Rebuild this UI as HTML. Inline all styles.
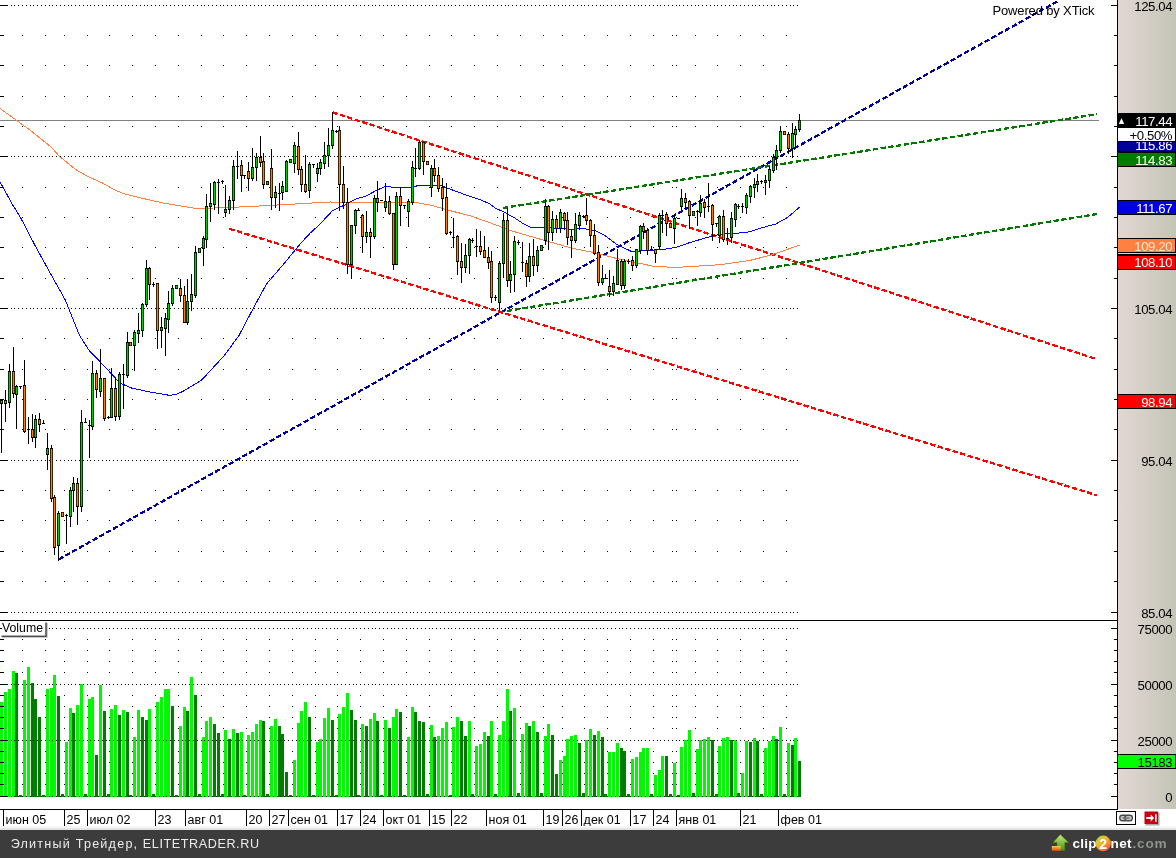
<!DOCTYPE html><html><head><meta charset="utf-8"><title>chart</title><style>html,body{margin:0;padding:0;background:#fff}svg{display:block;will-change:transform}text{font-family:"Liberation Sans",sans-serif}</style></head><body>
<svg width="1176" height="858" viewBox="0 0 1176 858">
<defs><linearGradient id="ax" x1="0" x2="1" y1="0" y2="0"><stop offset="0" stop-color="#e2d7d3"/><stop offset="0.5" stop-color="#d3cec6"/><stop offset="1" stop-color="#c4c4b6"/></linearGradient><linearGradient id="ball" x1="0.15" y1="0.05" x2="0.85" y2="0.95"><stop offset="0" stop-color="#9cd440"/><stop offset="0.3" stop-color="#e8c030"/><stop offset="0.6" stop-color="#f89820"/><stop offset="1" stop-color="#f04858"/></linearGradient><linearGradient id="arr" x1="0" x2="0" y1="0" y2="1"><stop offset="0" stop-color="#c8e878"/><stop offset="1" stop-color="#4c9010"/></linearGradient><linearGradient id="arb" x1="0" x2="0" y1="0" y2="1"><stop offset="0" stop-color="#f8d030"/><stop offset="1" stop-color="#e04818"/></linearGradient></defs>
<rect width="1176" height="858" fill="#fff"/>
<g shape-rendering="crispEdges">
<path d="M0 702h3V797h-3zM4 692h3V797h-3zM8 689h3V797h-3zM12 671h3V797h-3zM23 680h3V797h-3zM27 667h3V797h-3zM46 689h3V797h-3zM50 688h3V797h-3zM53 675h3V797h-3zM65 742h3V797h-3zM69 708h3V797h-3zM76 705h3V797h-3zM80 684h3V797h-3zM88 699h3V797h-3zM91 697h3V797h-3zM99 685h3V797h-3zM110 709h3V797h-3zM114 705h3V797h-3zM122 710h3V797h-3zM133 737h3V797h-3zM137 710h3V797h-3zM148 709h3V797h-3zM156 702h3V797h-3zM160 697h3V797h-3zM164 689h3V797h-3zM167 689h3V797h-3zM179 726h3V797h-3zM183 707h3V797h-3zM190 677h3V797h-3zM202 737h3V797h-3zM205 721h3V797h-3zM209 717h3V797h-3zM224 730h3V797h-3zM232 729h3V797h-3zM240 732h3V797h-3zM247 735h3V797h-3zM251 732h3V797h-3zM255 724h3V797h-3zM259 720h3V797h-3zM270 726h3V797h-3zM274 719h3V797h-3zM293 760h3V797h-3zM297 723h3V797h-3zM300 711h3V797h-3zM304 702h3V797h-3zM316 742h3V797h-3zM319 739h3V797h-3zM323 718h3V797h-3zM327 708h3V797h-3zM338 714h3V797h-3zM342 707h3V797h-3zM346 693h3V797h-3zM361 724h3V797h-3zM369 719h3V797h-3zM373 713h3V797h-3zM384 720h3V797h-3zM392 717h3V797h-3zM395 709h3V797h-3zM407 737h3V797h-3zM411 707h3V797h-3zM430 725h3V797h-3zM437 736h3V797h-3zM441 728h3V797h-3zM445 722h3V797h-3zM452 727h3V797h-3zM456 717h3V797h-3zM468 721h3V797h-3zM475 746h3V797h-3zM479 744h3V797h-3zM483 732h3V797h-3zM490 721h3V797h-3zM498 735h3V797h-3zM502 721h3V797h-3zM506 689h3V797h-3zM513 708h3V797h-3zM521 734h3V797h-3zM525 723h3V797h-3zM532 721h3V797h-3zM544 736h3V797h-3zM547 724h3V797h-3zM559 760h3V797h-3zM563 756h3V797h-3zM566 739h3V797h-3zM570 736h3V797h-3zM574 735h3V797h-3zM585 740h3V797h-3zM589 729h3V797h-3zM597 731h3V797h-3zM608 752h3V797h-3zM612 752h3V797h-3zM616 743h3V797h-3zM631 759h3V797h-3zM635 757h3V797h-3zM639 752h3V797h-3zM642 748h3V797h-3zM646 748h3V797h-3zM654 775h3V797h-3zM658 770h3V797h-3zM661 756h3V797h-3zM673 763h3V797h-3zM680 747h3V797h-3zM684 740h3V797h-3zM688 730h3V797h-3zM696 749h3V797h-3zM699 740h3V797h-3zM703 739h3V797h-3zM707 737h3V797h-3zM718 746h3V797h-3zM722 738h3V797h-3zM726 737h3V797h-3zM734 740h3V797h-3zM741 773h3V797h-3zM745 741h3V797h-3zM753 738h3V797h-3zM764 748h3V797h-3zM768 741h3V797h-3zM772 736h3V797h-3zM779 727h3V797h-3zM787 743h3V797h-3zM794 738h3V797h-3z" fill="#00f800"/>
<path d="M15 673h3V797h-3zM19 795h3V797h-3zM31 683h3V797h-3zM34 699h3V797h-3zM38 717h3V797h-3zM42 795h3V797h-3zM57 696h3V797h-3zM61 794h3V797h-3zM72 713h3V797h-3zM84 794h3V797h-3zM95 755h3V797h-3zM103 711h3V797h-3zM107 794h3V797h-3zM118 715h3V797h-3zM126 712h3V797h-3zM129 795h3V797h-3zM141 717h3V797h-3zM145 720h3V797h-3zM152 794h3V797h-3zM171 706h3V797h-3zM175 795h3V797h-3zM186 711h3V797h-3zM194 695h3V797h-3zM198 794h3V797h-3zM213 724h3V797h-3zM217 733h3V797h-3zM221 794h3V797h-3zM228 739h3V797h-3zM236 733h3V797h-3zM243 795h3V797h-3zM262 721h3V797h-3zM266 794h3V797h-3zM278 726h3V797h-3zM281 734h3V797h-3zM285 772h3V797h-3zM289 795h3V797h-3zM308 717h3V797h-3zM312 795h3V797h-3zM331 720h3V797h-3zM335 795h3V797h-3zM350 710h3V797h-3zM354 720h3V797h-3zM357 795h3V797h-3zM365 726h3V797h-3zM376 721h3V797h-3zM380 795h3V797h-3zM388 728h3V797h-3zM399 712h3V797h-3zM403 795h3V797h-3zM414 712h3V797h-3zM418 721h3V797h-3zM422 722h3V797h-3zM426 794h3V797h-3zM433 737h3V797h-3zM449 795h3V797h-3zM460 721h3V797h-3zM464 736h3V797h-3zM471 794h3V797h-3zM487 736h3V797h-3zM494 794h3V797h-3zM509 711h3V797h-3zM517 793h3V797h-3zM528 726h3V797h-3zM536 732h3V797h-3zM540 793h3V797h-3zM551 735h3V797h-3zM555 774h3V797h-3zM578 743h3V797h-3zM582 793h3V797h-3zM593 735h3V797h-3zM601 737h3V797h-3zM604 794h3V797h-3zM620 748h3V797h-3zM623 751h3V797h-3zM627 794h3V797h-3zM650 794h3V797h-3zM665 756h3V797h-3zM669 794h3V797h-3zM677 795h3V797h-3zM692 793h3V797h-3zM711 740h3V797h-3zM715 794h3V797h-3zM730 740h3V797h-3zM737 793h3V797h-3zM749 742h3V797h-3zM756 741h3V797h-3zM760 794h3V797h-3zM775 739h3V797h-3zM783 794h3V797h-3zM791 745h3V797h-3zM798 761h3V797h-3z" fill="#007c00"/>
<path d="M11 5h1v1h-1zM14 5h1v1h-1zM18 5h1v1h-1zM22 5h1v1h-1zM26 5h1v1h-1zM30 5h1v1h-1zM33 5h1v1h-1zM37 5h1v1h-1zM41 5h1v1h-1zM45 5h1v1h-1zM49 5h1v1h-1zM52 5h1v1h-1zM56 5h1v1h-1zM60 5h1v1h-1zM64 5h1v1h-1zM68 5h1v1h-1zM71 5h1v1h-1zM75 5h1v1h-1zM79 5h1v1h-1zM83 5h1v1h-1zM87 5h1v1h-1zM90 5h1v1h-1zM94 5h1v1h-1zM98 5h1v1h-1zM102 5h1v1h-1zM106 5h1v1h-1zM109 5h1v1h-1zM113 5h1v1h-1zM117 5h1v1h-1zM121 5h1v1h-1zM125 5h1v1h-1zM128 5h1v1h-1zM132 5h1v1h-1zM136 5h1v1h-1zM140 5h1v1h-1zM144 5h1v1h-1zM147 5h1v1h-1zM151 5h1v1h-1zM155 5h1v1h-1zM159 5h1v1h-1zM163 5h1v1h-1zM166 5h1v1h-1zM170 5h1v1h-1zM174 5h1v1h-1zM178 5h1v1h-1zM182 5h1v1h-1zM185 5h1v1h-1zM189 5h1v1h-1zM193 5h1v1h-1zM197 5h1v1h-1zM201 5h1v1h-1zM204 5h1v1h-1zM208 5h1v1h-1zM212 5h1v1h-1zM216 5h1v1h-1zM220 5h1v1h-1zM223 5h1v1h-1zM227 5h1v1h-1zM231 5h1v1h-1zM235 5h1v1h-1zM239 5h1v1h-1zM242 5h1v1h-1zM246 5h1v1h-1zM250 5h1v1h-1zM254 5h1v1h-1zM258 5h1v1h-1zM261 5h1v1h-1zM265 5h1v1h-1zM269 5h1v1h-1zM273 5h1v1h-1zM277 5h1v1h-1zM280 5h1v1h-1zM284 5h1v1h-1zM288 5h1v1h-1zM292 5h1v1h-1zM296 5h1v1h-1zM299 5h1v1h-1zM303 5h1v1h-1zM307 5h1v1h-1zM311 5h1v1h-1zM315 5h1v1h-1zM318 5h1v1h-1zM322 5h1v1h-1zM326 5h1v1h-1zM330 5h1v1h-1zM334 5h1v1h-1zM337 5h1v1h-1zM341 5h1v1h-1zM345 5h1v1h-1zM349 5h1v1h-1zM353 5h1v1h-1zM356 5h1v1h-1zM360 5h1v1h-1zM364 5h1v1h-1zM368 5h1v1h-1zM372 5h1v1h-1zM375 5h1v1h-1zM379 5h1v1h-1zM383 5h1v1h-1zM387 5h1v1h-1zM391 5h1v1h-1zM394 5h1v1h-1zM398 5h1v1h-1zM402 5h1v1h-1zM406 5h1v1h-1zM410 5h1v1h-1zM413 5h1v1h-1zM417 5h1v1h-1zM421 5h1v1h-1zM425 5h1v1h-1zM429 5h1v1h-1zM432 5h1v1h-1zM436 5h1v1h-1zM440 5h1v1h-1zM444 5h1v1h-1zM448 5h1v1h-1zM451 5h1v1h-1zM455 5h1v1h-1zM459 5h1v1h-1zM463 5h1v1h-1zM467 5h1v1h-1zM470 5h1v1h-1zM474 5h1v1h-1zM478 5h1v1h-1zM482 5h1v1h-1zM486 5h1v1h-1zM489 5h1v1h-1zM493 5h1v1h-1zM497 5h1v1h-1zM501 5h1v1h-1zM505 5h1v1h-1zM508 5h1v1h-1zM512 5h1v1h-1zM516 5h1v1h-1zM520 5h1v1h-1zM524 5h1v1h-1zM527 5h1v1h-1zM531 5h1v1h-1zM535 5h1v1h-1zM539 5h1v1h-1zM543 5h1v1h-1zM546 5h1v1h-1zM550 5h1v1h-1zM554 5h1v1h-1zM558 5h1v1h-1zM562 5h1v1h-1zM565 5h1v1h-1zM569 5h1v1h-1zM573 5h1v1h-1zM577 5h1v1h-1zM581 5h1v1h-1zM584 5h1v1h-1zM588 5h1v1h-1zM592 5h1v1h-1zM596 5h1v1h-1zM600 5h1v1h-1zM603 5h1v1h-1zM607 5h1v1h-1zM611 5h1v1h-1zM615 5h1v1h-1zM619 5h1v1h-1zM622 5h1v1h-1zM626 5h1v1h-1zM630 5h1v1h-1zM634 5h1v1h-1zM638 5h1v1h-1zM641 5h1v1h-1zM645 5h1v1h-1zM649 5h1v1h-1zM653 5h1v1h-1zM657 5h1v1h-1zM660 5h1v1h-1zM664 5h1v1h-1zM668 5h1v1h-1zM672 5h1v1h-1zM676 5h1v1h-1zM679 5h1v1h-1zM683 5h1v1h-1zM687 5h1v1h-1zM691 5h1v1h-1zM695 5h1v1h-1zM698 5h1v1h-1zM702 5h1v1h-1zM706 5h1v1h-1zM710 5h1v1h-1zM714 5h1v1h-1zM717 5h1v1h-1zM721 5h1v1h-1zM725 5h1v1h-1zM729 5h1v1h-1zM733 5h1v1h-1zM736 5h1v1h-1zM740 5h1v1h-1zM744 5h1v1h-1zM748 5h1v1h-1zM752 5h1v1h-1zM755 5h1v1h-1zM759 5h1v1h-1zM763 5h1v1h-1zM767 5h1v1h-1zM771 5h1v1h-1zM774 5h1v1h-1zM778 5h1v1h-1zM782 5h1v1h-1zM786 5h1v1h-1zM790 5h1v1h-1zM793 5h1v1h-1zM797 5h1v1h-1zM0 5h8v1h-8zM22 35h1v1h-1zM45 35h1v1h-1zM64 35h1v1h-1zM87 35h1v1h-1zM109 35h1v1h-1zM132 35h1v1h-1zM155 35h1v1h-1zM178 35h1v1h-1zM201 35h1v1h-1zM223 35h1v1h-1zM246 35h1v1h-1zM269 35h1v1h-1zM292 35h1v1h-1zM315 35h1v1h-1zM337 35h1v1h-1zM360 35h1v1h-1zM383 35h1v1h-1zM406 35h1v1h-1zM429 35h1v1h-1zM451 35h1v1h-1zM474 35h1v1h-1zM497 35h1v1h-1zM520 35h1v1h-1zM543 35h1v1h-1zM562 35h1v1h-1zM584 35h1v1h-1zM607 35h1v1h-1zM630 35h1v1h-1zM653 35h1v1h-1zM672 35h1v1h-1zM676 35h1v1h-1zM695 35h1v1h-1zM717 35h1v1h-1zM740 35h1v1h-1zM763 35h1v1h-1zM786 35h1v1h-1zM0 35h4v1h-4zM22 65h1v1h-1zM45 65h1v1h-1zM64 65h1v1h-1zM87 65h1v1h-1zM109 65h1v1h-1zM132 65h1v1h-1zM155 65h1v1h-1zM178 65h1v1h-1zM201 65h1v1h-1zM223 65h1v1h-1zM246 65h1v1h-1zM269 65h1v1h-1zM292 65h1v1h-1zM315 65h1v1h-1zM337 65h1v1h-1zM360 65h1v1h-1zM383 65h1v1h-1zM406 65h1v1h-1zM429 65h1v1h-1zM451 65h1v1h-1zM474 65h1v1h-1zM497 65h1v1h-1zM520 65h1v1h-1zM543 65h1v1h-1zM562 65h1v1h-1zM584 65h1v1h-1zM607 65h1v1h-1zM630 65h1v1h-1zM653 65h1v1h-1zM672 65h1v1h-1zM676 65h1v1h-1zM695 65h1v1h-1zM717 65h1v1h-1zM740 65h1v1h-1zM763 65h1v1h-1zM786 65h1v1h-1zM0 65h4v1h-4zM22 96h1v1h-1zM45 96h1v1h-1zM64 96h1v1h-1zM87 96h1v1h-1zM109 96h1v1h-1zM132 96h1v1h-1zM155 96h1v1h-1zM178 96h1v1h-1zM201 96h1v1h-1zM223 96h1v1h-1zM246 96h1v1h-1zM269 96h1v1h-1zM292 96h1v1h-1zM315 96h1v1h-1zM337 96h1v1h-1zM360 96h1v1h-1zM383 96h1v1h-1zM406 96h1v1h-1zM429 96h1v1h-1zM451 96h1v1h-1zM474 96h1v1h-1zM497 96h1v1h-1zM520 96h1v1h-1zM543 96h1v1h-1zM562 96h1v1h-1zM584 96h1v1h-1zM607 96h1v1h-1zM630 96h1v1h-1zM653 96h1v1h-1zM672 96h1v1h-1zM676 96h1v1h-1zM695 96h1v1h-1zM717 96h1v1h-1zM740 96h1v1h-1zM763 96h1v1h-1zM786 96h1v1h-1zM0 96h4v1h-4zM22 126h1v1h-1zM45 126h1v1h-1zM64 126h1v1h-1zM87 126h1v1h-1zM109 126h1v1h-1zM132 126h1v1h-1zM155 126h1v1h-1zM178 126h1v1h-1zM201 126h1v1h-1zM223 126h1v1h-1zM246 126h1v1h-1zM269 126h1v1h-1zM292 126h1v1h-1zM315 126h1v1h-1zM337 126h1v1h-1zM360 126h1v1h-1zM383 126h1v1h-1zM406 126h1v1h-1zM429 126h1v1h-1zM451 126h1v1h-1zM474 126h1v1h-1zM497 126h1v1h-1zM520 126h1v1h-1zM543 126h1v1h-1zM562 126h1v1h-1zM584 126h1v1h-1zM607 126h1v1h-1zM630 126h1v1h-1zM653 126h1v1h-1zM672 126h1v1h-1zM676 126h1v1h-1zM695 126h1v1h-1zM717 126h1v1h-1zM740 126h1v1h-1zM763 126h1v1h-1zM786 126h1v1h-1zM0 126h4v1h-4zM11 156h1v1h-1zM14 156h1v1h-1zM18 156h1v1h-1zM22 156h1v1h-1zM26 156h1v1h-1zM30 156h1v1h-1zM33 156h1v1h-1zM37 156h1v1h-1zM41 156h1v1h-1zM45 156h1v1h-1zM49 156h1v1h-1zM52 156h1v1h-1zM56 156h1v1h-1zM60 156h1v1h-1zM64 156h1v1h-1zM68 156h1v1h-1zM71 156h1v1h-1zM75 156h1v1h-1zM79 156h1v1h-1zM83 156h1v1h-1zM87 156h1v1h-1zM90 156h1v1h-1zM94 156h1v1h-1zM98 156h1v1h-1zM102 156h1v1h-1zM106 156h1v1h-1zM109 156h1v1h-1zM113 156h1v1h-1zM117 156h1v1h-1zM121 156h1v1h-1zM125 156h1v1h-1zM128 156h1v1h-1zM132 156h1v1h-1zM136 156h1v1h-1zM140 156h1v1h-1zM144 156h1v1h-1zM147 156h1v1h-1zM151 156h1v1h-1zM155 156h1v1h-1zM159 156h1v1h-1zM163 156h1v1h-1zM166 156h1v1h-1zM170 156h1v1h-1zM174 156h1v1h-1zM178 156h1v1h-1zM182 156h1v1h-1zM185 156h1v1h-1zM189 156h1v1h-1zM193 156h1v1h-1zM197 156h1v1h-1zM201 156h1v1h-1zM204 156h1v1h-1zM208 156h1v1h-1zM212 156h1v1h-1zM216 156h1v1h-1zM220 156h1v1h-1zM223 156h1v1h-1zM227 156h1v1h-1zM231 156h1v1h-1zM235 156h1v1h-1zM239 156h1v1h-1zM242 156h1v1h-1zM246 156h1v1h-1zM250 156h1v1h-1zM254 156h1v1h-1zM258 156h1v1h-1zM261 156h1v1h-1zM265 156h1v1h-1zM269 156h1v1h-1zM273 156h1v1h-1zM277 156h1v1h-1zM280 156h1v1h-1zM284 156h1v1h-1zM288 156h1v1h-1zM292 156h1v1h-1zM296 156h1v1h-1zM299 156h1v1h-1zM303 156h1v1h-1zM307 156h1v1h-1zM311 156h1v1h-1zM315 156h1v1h-1zM318 156h1v1h-1zM322 156h1v1h-1zM326 156h1v1h-1zM330 156h1v1h-1zM334 156h1v1h-1zM337 156h1v1h-1zM341 156h1v1h-1zM345 156h1v1h-1zM349 156h1v1h-1zM353 156h1v1h-1zM356 156h1v1h-1zM360 156h1v1h-1zM364 156h1v1h-1zM368 156h1v1h-1zM372 156h1v1h-1zM375 156h1v1h-1zM379 156h1v1h-1zM383 156h1v1h-1zM387 156h1v1h-1zM391 156h1v1h-1zM394 156h1v1h-1zM398 156h1v1h-1zM402 156h1v1h-1zM406 156h1v1h-1zM410 156h1v1h-1zM413 156h1v1h-1zM417 156h1v1h-1zM421 156h1v1h-1zM425 156h1v1h-1zM429 156h1v1h-1zM432 156h1v1h-1zM436 156h1v1h-1zM440 156h1v1h-1zM444 156h1v1h-1zM448 156h1v1h-1zM451 156h1v1h-1zM455 156h1v1h-1zM459 156h1v1h-1zM463 156h1v1h-1zM467 156h1v1h-1zM470 156h1v1h-1zM474 156h1v1h-1zM478 156h1v1h-1zM482 156h1v1h-1zM486 156h1v1h-1zM489 156h1v1h-1zM493 156h1v1h-1zM497 156h1v1h-1zM501 156h1v1h-1zM505 156h1v1h-1zM508 156h1v1h-1zM512 156h1v1h-1zM516 156h1v1h-1zM520 156h1v1h-1zM524 156h1v1h-1zM527 156h1v1h-1zM531 156h1v1h-1zM535 156h1v1h-1zM539 156h1v1h-1zM543 156h1v1h-1zM546 156h1v1h-1zM550 156h1v1h-1zM554 156h1v1h-1zM558 156h1v1h-1zM562 156h1v1h-1zM565 156h1v1h-1zM569 156h1v1h-1zM573 156h1v1h-1zM577 156h1v1h-1zM581 156h1v1h-1zM584 156h1v1h-1zM588 156h1v1h-1zM592 156h1v1h-1zM596 156h1v1h-1zM600 156h1v1h-1zM603 156h1v1h-1zM607 156h1v1h-1zM611 156h1v1h-1zM615 156h1v1h-1zM619 156h1v1h-1zM622 156h1v1h-1zM626 156h1v1h-1zM630 156h1v1h-1zM634 156h1v1h-1zM638 156h1v1h-1zM641 156h1v1h-1zM645 156h1v1h-1zM649 156h1v1h-1zM653 156h1v1h-1zM657 156h1v1h-1zM660 156h1v1h-1zM664 156h1v1h-1zM668 156h1v1h-1zM672 156h1v1h-1zM676 156h1v1h-1zM679 156h1v1h-1zM683 156h1v1h-1zM687 156h1v1h-1zM691 156h1v1h-1zM695 156h1v1h-1zM698 156h1v1h-1zM702 156h1v1h-1zM706 156h1v1h-1zM710 156h1v1h-1zM714 156h1v1h-1zM717 156h1v1h-1zM721 156h1v1h-1zM725 156h1v1h-1zM729 156h1v1h-1zM733 156h1v1h-1zM736 156h1v1h-1zM740 156h1v1h-1zM744 156h1v1h-1zM748 156h1v1h-1zM752 156h1v1h-1zM755 156h1v1h-1zM759 156h1v1h-1zM763 156h1v1h-1zM767 156h1v1h-1zM771 156h1v1h-1zM774 156h1v1h-1zM778 156h1v1h-1zM782 156h1v1h-1zM786 156h1v1h-1zM790 156h1v1h-1zM793 156h1v1h-1zM797 156h1v1h-1zM0 156h8v1h-8zM22 187h1v1h-1zM45 187h1v1h-1zM64 187h1v1h-1zM87 187h1v1h-1zM109 187h1v1h-1zM132 187h1v1h-1zM155 187h1v1h-1zM178 187h1v1h-1zM201 187h1v1h-1zM223 187h1v1h-1zM246 187h1v1h-1zM269 187h1v1h-1zM292 187h1v1h-1zM315 187h1v1h-1zM337 187h1v1h-1zM360 187h1v1h-1zM383 187h1v1h-1zM406 187h1v1h-1zM429 187h1v1h-1zM451 187h1v1h-1zM474 187h1v1h-1zM497 187h1v1h-1zM520 187h1v1h-1zM543 187h1v1h-1zM562 187h1v1h-1zM584 187h1v1h-1zM607 187h1v1h-1zM630 187h1v1h-1zM653 187h1v1h-1zM672 187h1v1h-1zM676 187h1v1h-1zM695 187h1v1h-1zM717 187h1v1h-1zM740 187h1v1h-1zM763 187h1v1h-1zM786 187h1v1h-1zM0 187h4v1h-4zM22 217h1v1h-1zM45 217h1v1h-1zM64 217h1v1h-1zM87 217h1v1h-1zM109 217h1v1h-1zM132 217h1v1h-1zM155 217h1v1h-1zM178 217h1v1h-1zM201 217h1v1h-1zM223 217h1v1h-1zM246 217h1v1h-1zM269 217h1v1h-1zM292 217h1v1h-1zM315 217h1v1h-1zM337 217h1v1h-1zM360 217h1v1h-1zM383 217h1v1h-1zM406 217h1v1h-1zM429 217h1v1h-1zM451 217h1v1h-1zM474 217h1v1h-1zM497 217h1v1h-1zM520 217h1v1h-1zM543 217h1v1h-1zM562 217h1v1h-1zM584 217h1v1h-1zM607 217h1v1h-1zM630 217h1v1h-1zM653 217h1v1h-1zM672 217h1v1h-1zM676 217h1v1h-1zM695 217h1v1h-1zM717 217h1v1h-1zM740 217h1v1h-1zM763 217h1v1h-1zM786 217h1v1h-1zM0 217h4v1h-4zM22 247h1v1h-1zM45 247h1v1h-1zM64 247h1v1h-1zM87 247h1v1h-1zM109 247h1v1h-1zM132 247h1v1h-1zM155 247h1v1h-1zM178 247h1v1h-1zM201 247h1v1h-1zM223 247h1v1h-1zM246 247h1v1h-1zM269 247h1v1h-1zM292 247h1v1h-1zM315 247h1v1h-1zM337 247h1v1h-1zM360 247h1v1h-1zM383 247h1v1h-1zM406 247h1v1h-1zM429 247h1v1h-1zM451 247h1v1h-1zM474 247h1v1h-1zM497 247h1v1h-1zM520 247h1v1h-1zM543 247h1v1h-1zM562 247h1v1h-1zM584 247h1v1h-1zM607 247h1v1h-1zM630 247h1v1h-1zM653 247h1v1h-1zM672 247h1v1h-1zM676 247h1v1h-1zM695 247h1v1h-1zM717 247h1v1h-1zM740 247h1v1h-1zM763 247h1v1h-1zM786 247h1v1h-1zM0 247h4v1h-4zM22 278h1v1h-1zM45 278h1v1h-1zM64 278h1v1h-1zM87 278h1v1h-1zM109 278h1v1h-1zM132 278h1v1h-1zM155 278h1v1h-1zM178 278h1v1h-1zM201 278h1v1h-1zM223 278h1v1h-1zM246 278h1v1h-1zM269 278h1v1h-1zM292 278h1v1h-1zM315 278h1v1h-1zM337 278h1v1h-1zM360 278h1v1h-1zM383 278h1v1h-1zM406 278h1v1h-1zM429 278h1v1h-1zM451 278h1v1h-1zM474 278h1v1h-1zM497 278h1v1h-1zM520 278h1v1h-1zM543 278h1v1h-1zM562 278h1v1h-1zM584 278h1v1h-1zM607 278h1v1h-1zM630 278h1v1h-1zM653 278h1v1h-1zM672 278h1v1h-1zM676 278h1v1h-1zM695 278h1v1h-1zM717 278h1v1h-1zM740 278h1v1h-1zM763 278h1v1h-1zM786 278h1v1h-1zM0 278h4v1h-4zM11 308h1v1h-1zM14 308h1v1h-1zM18 308h1v1h-1zM22 308h1v1h-1zM26 308h1v1h-1zM30 308h1v1h-1zM33 308h1v1h-1zM37 308h1v1h-1zM41 308h1v1h-1zM45 308h1v1h-1zM49 308h1v1h-1zM52 308h1v1h-1zM56 308h1v1h-1zM60 308h1v1h-1zM64 308h1v1h-1zM68 308h1v1h-1zM71 308h1v1h-1zM75 308h1v1h-1zM79 308h1v1h-1zM83 308h1v1h-1zM87 308h1v1h-1zM90 308h1v1h-1zM94 308h1v1h-1zM98 308h1v1h-1zM102 308h1v1h-1zM106 308h1v1h-1zM109 308h1v1h-1zM113 308h1v1h-1zM117 308h1v1h-1zM121 308h1v1h-1zM125 308h1v1h-1zM128 308h1v1h-1zM132 308h1v1h-1zM136 308h1v1h-1zM140 308h1v1h-1zM144 308h1v1h-1zM147 308h1v1h-1zM151 308h1v1h-1zM155 308h1v1h-1zM159 308h1v1h-1zM163 308h1v1h-1zM166 308h1v1h-1zM170 308h1v1h-1zM174 308h1v1h-1zM178 308h1v1h-1zM182 308h1v1h-1zM185 308h1v1h-1zM189 308h1v1h-1zM193 308h1v1h-1zM197 308h1v1h-1zM201 308h1v1h-1zM204 308h1v1h-1zM208 308h1v1h-1zM212 308h1v1h-1zM216 308h1v1h-1zM220 308h1v1h-1zM223 308h1v1h-1zM227 308h1v1h-1zM231 308h1v1h-1zM235 308h1v1h-1zM239 308h1v1h-1zM242 308h1v1h-1zM246 308h1v1h-1zM250 308h1v1h-1zM254 308h1v1h-1zM258 308h1v1h-1zM261 308h1v1h-1zM265 308h1v1h-1zM269 308h1v1h-1zM273 308h1v1h-1zM277 308h1v1h-1zM280 308h1v1h-1zM284 308h1v1h-1zM288 308h1v1h-1zM292 308h1v1h-1zM296 308h1v1h-1zM299 308h1v1h-1zM303 308h1v1h-1zM307 308h1v1h-1zM311 308h1v1h-1zM315 308h1v1h-1zM318 308h1v1h-1zM322 308h1v1h-1zM326 308h1v1h-1zM330 308h1v1h-1zM334 308h1v1h-1zM337 308h1v1h-1zM341 308h1v1h-1zM345 308h1v1h-1zM349 308h1v1h-1zM353 308h1v1h-1zM356 308h1v1h-1zM360 308h1v1h-1zM364 308h1v1h-1zM368 308h1v1h-1zM372 308h1v1h-1zM375 308h1v1h-1zM379 308h1v1h-1zM383 308h1v1h-1zM387 308h1v1h-1zM391 308h1v1h-1zM394 308h1v1h-1zM398 308h1v1h-1zM402 308h1v1h-1zM406 308h1v1h-1zM410 308h1v1h-1zM413 308h1v1h-1zM417 308h1v1h-1zM421 308h1v1h-1zM425 308h1v1h-1zM429 308h1v1h-1zM432 308h1v1h-1zM436 308h1v1h-1zM440 308h1v1h-1zM444 308h1v1h-1zM448 308h1v1h-1zM451 308h1v1h-1zM455 308h1v1h-1zM459 308h1v1h-1zM463 308h1v1h-1zM467 308h1v1h-1zM470 308h1v1h-1zM474 308h1v1h-1zM478 308h1v1h-1zM482 308h1v1h-1zM486 308h1v1h-1zM489 308h1v1h-1zM493 308h1v1h-1zM497 308h1v1h-1zM501 308h1v1h-1zM505 308h1v1h-1zM508 308h1v1h-1zM512 308h1v1h-1zM516 308h1v1h-1zM520 308h1v1h-1zM524 308h1v1h-1zM527 308h1v1h-1zM531 308h1v1h-1zM535 308h1v1h-1zM539 308h1v1h-1zM543 308h1v1h-1zM546 308h1v1h-1zM550 308h1v1h-1zM554 308h1v1h-1zM558 308h1v1h-1zM562 308h1v1h-1zM565 308h1v1h-1zM569 308h1v1h-1zM573 308h1v1h-1zM577 308h1v1h-1zM581 308h1v1h-1zM584 308h1v1h-1zM588 308h1v1h-1zM592 308h1v1h-1zM596 308h1v1h-1zM600 308h1v1h-1zM603 308h1v1h-1zM607 308h1v1h-1zM611 308h1v1h-1zM615 308h1v1h-1zM619 308h1v1h-1zM622 308h1v1h-1zM626 308h1v1h-1zM630 308h1v1h-1zM634 308h1v1h-1zM638 308h1v1h-1zM641 308h1v1h-1zM645 308h1v1h-1zM649 308h1v1h-1zM653 308h1v1h-1zM657 308h1v1h-1zM660 308h1v1h-1zM664 308h1v1h-1zM668 308h1v1h-1zM672 308h1v1h-1zM676 308h1v1h-1zM679 308h1v1h-1zM683 308h1v1h-1zM687 308h1v1h-1zM691 308h1v1h-1zM695 308h1v1h-1zM698 308h1v1h-1zM702 308h1v1h-1zM706 308h1v1h-1zM710 308h1v1h-1zM714 308h1v1h-1zM717 308h1v1h-1zM721 308h1v1h-1zM725 308h1v1h-1zM729 308h1v1h-1zM733 308h1v1h-1zM736 308h1v1h-1zM740 308h1v1h-1zM744 308h1v1h-1zM748 308h1v1h-1zM752 308h1v1h-1zM755 308h1v1h-1zM759 308h1v1h-1zM763 308h1v1h-1zM767 308h1v1h-1zM771 308h1v1h-1zM774 308h1v1h-1zM778 308h1v1h-1zM782 308h1v1h-1zM786 308h1v1h-1zM790 308h1v1h-1zM793 308h1v1h-1zM797 308h1v1h-1zM0 308h8v1h-8zM22 338h1v1h-1zM45 338h1v1h-1zM64 338h1v1h-1zM87 338h1v1h-1zM109 338h1v1h-1zM132 338h1v1h-1zM155 338h1v1h-1zM178 338h1v1h-1zM201 338h1v1h-1zM223 338h1v1h-1zM246 338h1v1h-1zM269 338h1v1h-1zM292 338h1v1h-1zM315 338h1v1h-1zM337 338h1v1h-1zM360 338h1v1h-1zM383 338h1v1h-1zM406 338h1v1h-1zM429 338h1v1h-1zM451 338h1v1h-1zM474 338h1v1h-1zM497 338h1v1h-1zM520 338h1v1h-1zM543 338h1v1h-1zM562 338h1v1h-1zM584 338h1v1h-1zM607 338h1v1h-1zM630 338h1v1h-1zM653 338h1v1h-1zM672 338h1v1h-1zM676 338h1v1h-1zM695 338h1v1h-1zM717 338h1v1h-1zM740 338h1v1h-1zM763 338h1v1h-1zM786 338h1v1h-1zM0 338h4v1h-4zM22 369h1v1h-1zM45 369h1v1h-1zM64 369h1v1h-1zM87 369h1v1h-1zM109 369h1v1h-1zM132 369h1v1h-1zM155 369h1v1h-1zM178 369h1v1h-1zM201 369h1v1h-1zM223 369h1v1h-1zM246 369h1v1h-1zM269 369h1v1h-1zM292 369h1v1h-1zM315 369h1v1h-1zM337 369h1v1h-1zM360 369h1v1h-1zM383 369h1v1h-1zM406 369h1v1h-1zM429 369h1v1h-1zM451 369h1v1h-1zM474 369h1v1h-1zM497 369h1v1h-1zM520 369h1v1h-1zM543 369h1v1h-1zM562 369h1v1h-1zM584 369h1v1h-1zM607 369h1v1h-1zM630 369h1v1h-1zM653 369h1v1h-1zM672 369h1v1h-1zM676 369h1v1h-1zM695 369h1v1h-1zM717 369h1v1h-1zM740 369h1v1h-1zM763 369h1v1h-1zM786 369h1v1h-1zM0 369h4v1h-4zM22 399h1v1h-1zM45 399h1v1h-1zM64 399h1v1h-1zM87 399h1v1h-1zM109 399h1v1h-1zM132 399h1v1h-1zM155 399h1v1h-1zM178 399h1v1h-1zM201 399h1v1h-1zM223 399h1v1h-1zM246 399h1v1h-1zM269 399h1v1h-1zM292 399h1v1h-1zM315 399h1v1h-1zM337 399h1v1h-1zM360 399h1v1h-1zM383 399h1v1h-1zM406 399h1v1h-1zM429 399h1v1h-1zM451 399h1v1h-1zM474 399h1v1h-1zM497 399h1v1h-1zM520 399h1v1h-1zM543 399h1v1h-1zM562 399h1v1h-1zM584 399h1v1h-1zM607 399h1v1h-1zM630 399h1v1h-1zM653 399h1v1h-1zM672 399h1v1h-1zM676 399h1v1h-1zM695 399h1v1h-1zM717 399h1v1h-1zM740 399h1v1h-1zM763 399h1v1h-1zM786 399h1v1h-1zM0 399h4v1h-4zM22 429h1v1h-1zM45 429h1v1h-1zM64 429h1v1h-1zM87 429h1v1h-1zM109 429h1v1h-1zM132 429h1v1h-1zM155 429h1v1h-1zM178 429h1v1h-1zM201 429h1v1h-1zM223 429h1v1h-1zM246 429h1v1h-1zM269 429h1v1h-1zM292 429h1v1h-1zM315 429h1v1h-1zM337 429h1v1h-1zM360 429h1v1h-1zM383 429h1v1h-1zM406 429h1v1h-1zM429 429h1v1h-1zM451 429h1v1h-1zM474 429h1v1h-1zM497 429h1v1h-1zM520 429h1v1h-1zM543 429h1v1h-1zM562 429h1v1h-1zM584 429h1v1h-1zM607 429h1v1h-1zM630 429h1v1h-1zM653 429h1v1h-1zM672 429h1v1h-1zM676 429h1v1h-1zM695 429h1v1h-1zM717 429h1v1h-1zM740 429h1v1h-1zM763 429h1v1h-1zM786 429h1v1h-1zM0 429h4v1h-4zM11 460h1v1h-1zM14 460h1v1h-1zM18 460h1v1h-1zM22 460h1v1h-1zM26 460h1v1h-1zM30 460h1v1h-1zM33 460h1v1h-1zM37 460h1v1h-1zM41 460h1v1h-1zM45 460h1v1h-1zM49 460h1v1h-1zM52 460h1v1h-1zM56 460h1v1h-1zM60 460h1v1h-1zM64 460h1v1h-1zM68 460h1v1h-1zM71 460h1v1h-1zM75 460h1v1h-1zM79 460h1v1h-1zM83 460h1v1h-1zM87 460h1v1h-1zM90 460h1v1h-1zM94 460h1v1h-1zM98 460h1v1h-1zM102 460h1v1h-1zM106 460h1v1h-1zM109 460h1v1h-1zM113 460h1v1h-1zM117 460h1v1h-1zM121 460h1v1h-1zM125 460h1v1h-1zM128 460h1v1h-1zM132 460h1v1h-1zM136 460h1v1h-1zM140 460h1v1h-1zM144 460h1v1h-1zM147 460h1v1h-1zM151 460h1v1h-1zM155 460h1v1h-1zM159 460h1v1h-1zM163 460h1v1h-1zM166 460h1v1h-1zM170 460h1v1h-1zM174 460h1v1h-1zM178 460h1v1h-1zM182 460h1v1h-1zM185 460h1v1h-1zM189 460h1v1h-1zM193 460h1v1h-1zM197 460h1v1h-1zM201 460h1v1h-1zM204 460h1v1h-1zM208 460h1v1h-1zM212 460h1v1h-1zM216 460h1v1h-1zM220 460h1v1h-1zM223 460h1v1h-1zM227 460h1v1h-1zM231 460h1v1h-1zM235 460h1v1h-1zM239 460h1v1h-1zM242 460h1v1h-1zM246 460h1v1h-1zM250 460h1v1h-1zM254 460h1v1h-1zM258 460h1v1h-1zM261 460h1v1h-1zM265 460h1v1h-1zM269 460h1v1h-1zM273 460h1v1h-1zM277 460h1v1h-1zM280 460h1v1h-1zM284 460h1v1h-1zM288 460h1v1h-1zM292 460h1v1h-1zM296 460h1v1h-1zM299 460h1v1h-1zM303 460h1v1h-1zM307 460h1v1h-1zM311 460h1v1h-1zM315 460h1v1h-1zM318 460h1v1h-1zM322 460h1v1h-1zM326 460h1v1h-1zM330 460h1v1h-1zM334 460h1v1h-1zM337 460h1v1h-1zM341 460h1v1h-1zM345 460h1v1h-1zM349 460h1v1h-1zM353 460h1v1h-1zM356 460h1v1h-1zM360 460h1v1h-1zM364 460h1v1h-1zM368 460h1v1h-1zM372 460h1v1h-1zM375 460h1v1h-1zM379 460h1v1h-1zM383 460h1v1h-1zM387 460h1v1h-1zM391 460h1v1h-1zM394 460h1v1h-1zM398 460h1v1h-1zM402 460h1v1h-1zM406 460h1v1h-1zM410 460h1v1h-1zM413 460h1v1h-1zM417 460h1v1h-1zM421 460h1v1h-1zM425 460h1v1h-1zM429 460h1v1h-1zM432 460h1v1h-1zM436 460h1v1h-1zM440 460h1v1h-1zM444 460h1v1h-1zM448 460h1v1h-1zM451 460h1v1h-1zM455 460h1v1h-1zM459 460h1v1h-1zM463 460h1v1h-1zM467 460h1v1h-1zM470 460h1v1h-1zM474 460h1v1h-1zM478 460h1v1h-1zM482 460h1v1h-1zM486 460h1v1h-1zM489 460h1v1h-1zM493 460h1v1h-1zM497 460h1v1h-1zM501 460h1v1h-1zM505 460h1v1h-1zM508 460h1v1h-1zM512 460h1v1h-1zM516 460h1v1h-1zM520 460h1v1h-1zM524 460h1v1h-1zM527 460h1v1h-1zM531 460h1v1h-1zM535 460h1v1h-1zM539 460h1v1h-1zM543 460h1v1h-1zM546 460h1v1h-1zM550 460h1v1h-1zM554 460h1v1h-1zM558 460h1v1h-1zM562 460h1v1h-1zM565 460h1v1h-1zM569 460h1v1h-1zM573 460h1v1h-1zM577 460h1v1h-1zM581 460h1v1h-1zM584 460h1v1h-1zM588 460h1v1h-1zM592 460h1v1h-1zM596 460h1v1h-1zM600 460h1v1h-1zM603 460h1v1h-1zM607 460h1v1h-1zM611 460h1v1h-1zM615 460h1v1h-1zM619 460h1v1h-1zM622 460h1v1h-1zM626 460h1v1h-1zM630 460h1v1h-1zM634 460h1v1h-1zM638 460h1v1h-1zM641 460h1v1h-1zM645 460h1v1h-1zM649 460h1v1h-1zM653 460h1v1h-1zM657 460h1v1h-1zM660 460h1v1h-1zM664 460h1v1h-1zM668 460h1v1h-1zM672 460h1v1h-1zM676 460h1v1h-1zM679 460h1v1h-1zM683 460h1v1h-1zM687 460h1v1h-1zM691 460h1v1h-1zM695 460h1v1h-1zM698 460h1v1h-1zM702 460h1v1h-1zM706 460h1v1h-1zM710 460h1v1h-1zM714 460h1v1h-1zM717 460h1v1h-1zM721 460h1v1h-1zM725 460h1v1h-1zM729 460h1v1h-1zM733 460h1v1h-1zM736 460h1v1h-1zM740 460h1v1h-1zM744 460h1v1h-1zM748 460h1v1h-1zM752 460h1v1h-1zM755 460h1v1h-1zM759 460h1v1h-1zM763 460h1v1h-1zM767 460h1v1h-1zM771 460h1v1h-1zM774 460h1v1h-1zM778 460h1v1h-1zM782 460h1v1h-1zM786 460h1v1h-1zM790 460h1v1h-1zM793 460h1v1h-1zM797 460h1v1h-1zM0 460h8v1h-8zM22 490h1v1h-1zM45 490h1v1h-1zM64 490h1v1h-1zM87 490h1v1h-1zM109 490h1v1h-1zM132 490h1v1h-1zM155 490h1v1h-1zM178 490h1v1h-1zM201 490h1v1h-1zM223 490h1v1h-1zM246 490h1v1h-1zM269 490h1v1h-1zM292 490h1v1h-1zM315 490h1v1h-1zM337 490h1v1h-1zM360 490h1v1h-1zM383 490h1v1h-1zM406 490h1v1h-1zM429 490h1v1h-1zM451 490h1v1h-1zM474 490h1v1h-1zM497 490h1v1h-1zM520 490h1v1h-1zM543 490h1v1h-1zM562 490h1v1h-1zM584 490h1v1h-1zM607 490h1v1h-1zM630 490h1v1h-1zM653 490h1v1h-1zM672 490h1v1h-1zM676 490h1v1h-1zM695 490h1v1h-1zM717 490h1v1h-1zM740 490h1v1h-1zM763 490h1v1h-1zM786 490h1v1h-1zM0 490h4v1h-4zM22 520h1v1h-1zM45 520h1v1h-1zM64 520h1v1h-1zM87 520h1v1h-1zM109 520h1v1h-1zM132 520h1v1h-1zM155 520h1v1h-1zM178 520h1v1h-1zM201 520h1v1h-1zM223 520h1v1h-1zM246 520h1v1h-1zM269 520h1v1h-1zM292 520h1v1h-1zM315 520h1v1h-1zM337 520h1v1h-1zM360 520h1v1h-1zM383 520h1v1h-1zM406 520h1v1h-1zM429 520h1v1h-1zM451 520h1v1h-1zM474 520h1v1h-1zM497 520h1v1h-1zM520 520h1v1h-1zM543 520h1v1h-1zM562 520h1v1h-1zM584 520h1v1h-1zM607 520h1v1h-1zM630 520h1v1h-1zM653 520h1v1h-1zM672 520h1v1h-1zM676 520h1v1h-1zM695 520h1v1h-1zM717 520h1v1h-1zM740 520h1v1h-1zM763 520h1v1h-1zM786 520h1v1h-1zM0 520h4v1h-4zM22 551h1v1h-1zM45 551h1v1h-1zM64 551h1v1h-1zM87 551h1v1h-1zM109 551h1v1h-1zM132 551h1v1h-1zM155 551h1v1h-1zM178 551h1v1h-1zM201 551h1v1h-1zM223 551h1v1h-1zM246 551h1v1h-1zM269 551h1v1h-1zM292 551h1v1h-1zM315 551h1v1h-1zM337 551h1v1h-1zM360 551h1v1h-1zM383 551h1v1h-1zM406 551h1v1h-1zM429 551h1v1h-1zM451 551h1v1h-1zM474 551h1v1h-1zM497 551h1v1h-1zM520 551h1v1h-1zM543 551h1v1h-1zM562 551h1v1h-1zM584 551h1v1h-1zM607 551h1v1h-1zM630 551h1v1h-1zM653 551h1v1h-1zM672 551h1v1h-1zM676 551h1v1h-1zM695 551h1v1h-1zM717 551h1v1h-1zM740 551h1v1h-1zM763 551h1v1h-1zM786 551h1v1h-1zM0 551h4v1h-4zM22 581h1v1h-1zM45 581h1v1h-1zM64 581h1v1h-1zM87 581h1v1h-1zM109 581h1v1h-1zM132 581h1v1h-1zM155 581h1v1h-1zM178 581h1v1h-1zM201 581h1v1h-1zM223 581h1v1h-1zM246 581h1v1h-1zM269 581h1v1h-1zM292 581h1v1h-1zM315 581h1v1h-1zM337 581h1v1h-1zM360 581h1v1h-1zM383 581h1v1h-1zM406 581h1v1h-1zM429 581h1v1h-1zM451 581h1v1h-1zM474 581h1v1h-1zM497 581h1v1h-1zM520 581h1v1h-1zM543 581h1v1h-1zM562 581h1v1h-1zM584 581h1v1h-1zM607 581h1v1h-1zM630 581h1v1h-1zM653 581h1v1h-1zM672 581h1v1h-1zM676 581h1v1h-1zM695 581h1v1h-1zM717 581h1v1h-1zM740 581h1v1h-1zM763 581h1v1h-1zM786 581h1v1h-1zM0 581h4v1h-4zM11 612h1v1h-1zM14 612h1v1h-1zM18 612h1v1h-1zM22 612h1v1h-1zM26 612h1v1h-1zM30 612h1v1h-1zM33 612h1v1h-1zM37 612h1v1h-1zM41 612h1v1h-1zM45 612h1v1h-1zM49 612h1v1h-1zM52 612h1v1h-1zM56 612h1v1h-1zM60 612h1v1h-1zM64 612h1v1h-1zM68 612h1v1h-1zM71 612h1v1h-1zM75 612h1v1h-1zM79 612h1v1h-1zM83 612h1v1h-1zM87 612h1v1h-1zM90 612h1v1h-1zM94 612h1v1h-1zM98 612h1v1h-1zM102 612h1v1h-1zM106 612h1v1h-1zM109 612h1v1h-1zM113 612h1v1h-1zM117 612h1v1h-1zM121 612h1v1h-1zM125 612h1v1h-1zM128 612h1v1h-1zM132 612h1v1h-1zM136 612h1v1h-1zM140 612h1v1h-1zM144 612h1v1h-1zM147 612h1v1h-1zM151 612h1v1h-1zM155 612h1v1h-1zM159 612h1v1h-1zM163 612h1v1h-1zM166 612h1v1h-1zM170 612h1v1h-1zM174 612h1v1h-1zM178 612h1v1h-1zM182 612h1v1h-1zM185 612h1v1h-1zM189 612h1v1h-1zM193 612h1v1h-1zM197 612h1v1h-1zM201 612h1v1h-1zM204 612h1v1h-1zM208 612h1v1h-1zM212 612h1v1h-1zM216 612h1v1h-1zM220 612h1v1h-1zM223 612h1v1h-1zM227 612h1v1h-1zM231 612h1v1h-1zM235 612h1v1h-1zM239 612h1v1h-1zM242 612h1v1h-1zM246 612h1v1h-1zM250 612h1v1h-1zM254 612h1v1h-1zM258 612h1v1h-1zM261 612h1v1h-1zM265 612h1v1h-1zM269 612h1v1h-1zM273 612h1v1h-1zM277 612h1v1h-1zM280 612h1v1h-1zM284 612h1v1h-1zM288 612h1v1h-1zM292 612h1v1h-1zM296 612h1v1h-1zM299 612h1v1h-1zM303 612h1v1h-1zM307 612h1v1h-1zM311 612h1v1h-1zM315 612h1v1h-1zM318 612h1v1h-1zM322 612h1v1h-1zM326 612h1v1h-1zM330 612h1v1h-1zM334 612h1v1h-1zM337 612h1v1h-1zM341 612h1v1h-1zM345 612h1v1h-1zM349 612h1v1h-1zM353 612h1v1h-1zM356 612h1v1h-1zM360 612h1v1h-1zM364 612h1v1h-1zM368 612h1v1h-1zM372 612h1v1h-1zM375 612h1v1h-1zM379 612h1v1h-1zM383 612h1v1h-1zM387 612h1v1h-1zM391 612h1v1h-1zM394 612h1v1h-1zM398 612h1v1h-1zM402 612h1v1h-1zM406 612h1v1h-1zM410 612h1v1h-1zM413 612h1v1h-1zM417 612h1v1h-1zM421 612h1v1h-1zM425 612h1v1h-1zM429 612h1v1h-1zM432 612h1v1h-1zM436 612h1v1h-1zM440 612h1v1h-1zM444 612h1v1h-1zM448 612h1v1h-1zM451 612h1v1h-1zM455 612h1v1h-1zM459 612h1v1h-1zM463 612h1v1h-1zM467 612h1v1h-1zM470 612h1v1h-1zM474 612h1v1h-1zM478 612h1v1h-1zM482 612h1v1h-1zM486 612h1v1h-1zM489 612h1v1h-1zM493 612h1v1h-1zM497 612h1v1h-1zM501 612h1v1h-1zM505 612h1v1h-1zM508 612h1v1h-1zM512 612h1v1h-1zM516 612h1v1h-1zM520 612h1v1h-1zM524 612h1v1h-1zM527 612h1v1h-1zM531 612h1v1h-1zM535 612h1v1h-1zM539 612h1v1h-1zM543 612h1v1h-1zM546 612h1v1h-1zM550 612h1v1h-1zM554 612h1v1h-1zM558 612h1v1h-1zM562 612h1v1h-1zM565 612h1v1h-1zM569 612h1v1h-1zM573 612h1v1h-1zM577 612h1v1h-1zM581 612h1v1h-1zM584 612h1v1h-1zM588 612h1v1h-1zM592 612h1v1h-1zM596 612h1v1h-1zM600 612h1v1h-1zM603 612h1v1h-1zM607 612h1v1h-1zM611 612h1v1h-1zM615 612h1v1h-1zM619 612h1v1h-1zM622 612h1v1h-1zM626 612h1v1h-1zM630 612h1v1h-1zM634 612h1v1h-1zM638 612h1v1h-1zM641 612h1v1h-1zM645 612h1v1h-1zM649 612h1v1h-1zM653 612h1v1h-1zM657 612h1v1h-1zM660 612h1v1h-1zM664 612h1v1h-1zM668 612h1v1h-1zM672 612h1v1h-1zM676 612h1v1h-1zM679 612h1v1h-1zM683 612h1v1h-1zM687 612h1v1h-1zM691 612h1v1h-1zM695 612h1v1h-1zM698 612h1v1h-1zM702 612h1v1h-1zM706 612h1v1h-1zM710 612h1v1h-1zM714 612h1v1h-1zM717 612h1v1h-1zM721 612h1v1h-1zM725 612h1v1h-1zM729 612h1v1h-1zM733 612h1v1h-1zM736 612h1v1h-1zM740 612h1v1h-1zM744 612h1v1h-1zM748 612h1v1h-1zM752 612h1v1h-1zM755 612h1v1h-1zM759 612h1v1h-1zM763 612h1v1h-1zM767 612h1v1h-1zM771 612h1v1h-1zM774 612h1v1h-1zM778 612h1v1h-1zM782 612h1v1h-1zM786 612h1v1h-1zM790 612h1v1h-1zM793 612h1v1h-1zM797 612h1v1h-1zM0 612h8v1h-8zM49 628h1v1h-1zM52 628h1v1h-1zM56 628h1v1h-1zM60 628h1v1h-1zM64 628h1v1h-1zM68 628h1v1h-1zM71 628h1v1h-1zM75 628h1v1h-1zM79 628h1v1h-1zM83 628h1v1h-1zM87 628h1v1h-1zM90 628h1v1h-1zM94 628h1v1h-1zM98 628h1v1h-1zM102 628h1v1h-1zM106 628h1v1h-1zM109 628h1v1h-1zM113 628h1v1h-1zM117 628h1v1h-1zM121 628h1v1h-1zM125 628h1v1h-1zM128 628h1v1h-1zM132 628h1v1h-1zM136 628h1v1h-1zM140 628h1v1h-1zM144 628h1v1h-1zM147 628h1v1h-1zM151 628h1v1h-1zM155 628h1v1h-1zM159 628h1v1h-1zM163 628h1v1h-1zM166 628h1v1h-1zM170 628h1v1h-1zM174 628h1v1h-1zM178 628h1v1h-1zM182 628h1v1h-1zM185 628h1v1h-1zM189 628h1v1h-1zM193 628h1v1h-1zM197 628h1v1h-1zM201 628h1v1h-1zM204 628h1v1h-1zM208 628h1v1h-1zM212 628h1v1h-1zM216 628h1v1h-1zM220 628h1v1h-1zM223 628h1v1h-1zM227 628h1v1h-1zM231 628h1v1h-1zM235 628h1v1h-1zM239 628h1v1h-1zM242 628h1v1h-1zM246 628h1v1h-1zM250 628h1v1h-1zM254 628h1v1h-1zM258 628h1v1h-1zM261 628h1v1h-1zM265 628h1v1h-1zM269 628h1v1h-1zM273 628h1v1h-1zM277 628h1v1h-1zM280 628h1v1h-1zM284 628h1v1h-1zM288 628h1v1h-1zM292 628h1v1h-1zM296 628h1v1h-1zM299 628h1v1h-1zM303 628h1v1h-1zM307 628h1v1h-1zM311 628h1v1h-1zM315 628h1v1h-1zM318 628h1v1h-1zM322 628h1v1h-1zM326 628h1v1h-1zM330 628h1v1h-1zM334 628h1v1h-1zM337 628h1v1h-1zM341 628h1v1h-1zM345 628h1v1h-1zM349 628h1v1h-1zM353 628h1v1h-1zM356 628h1v1h-1zM360 628h1v1h-1zM364 628h1v1h-1zM368 628h1v1h-1zM372 628h1v1h-1zM375 628h1v1h-1zM379 628h1v1h-1zM383 628h1v1h-1zM387 628h1v1h-1zM391 628h1v1h-1zM394 628h1v1h-1zM398 628h1v1h-1zM402 628h1v1h-1zM406 628h1v1h-1zM410 628h1v1h-1zM413 628h1v1h-1zM417 628h1v1h-1zM421 628h1v1h-1zM425 628h1v1h-1zM429 628h1v1h-1zM432 628h1v1h-1zM436 628h1v1h-1zM440 628h1v1h-1zM444 628h1v1h-1zM448 628h1v1h-1zM451 628h1v1h-1zM455 628h1v1h-1zM459 628h1v1h-1zM463 628h1v1h-1zM467 628h1v1h-1zM470 628h1v1h-1zM474 628h1v1h-1zM478 628h1v1h-1zM482 628h1v1h-1zM486 628h1v1h-1zM489 628h1v1h-1zM493 628h1v1h-1zM497 628h1v1h-1zM501 628h1v1h-1zM505 628h1v1h-1zM508 628h1v1h-1zM512 628h1v1h-1zM516 628h1v1h-1zM520 628h1v1h-1zM524 628h1v1h-1zM527 628h1v1h-1zM531 628h1v1h-1zM535 628h1v1h-1zM539 628h1v1h-1zM543 628h1v1h-1zM546 628h1v1h-1zM550 628h1v1h-1zM554 628h1v1h-1zM558 628h1v1h-1zM562 628h1v1h-1zM565 628h1v1h-1zM569 628h1v1h-1zM573 628h1v1h-1zM577 628h1v1h-1zM581 628h1v1h-1zM584 628h1v1h-1zM588 628h1v1h-1zM592 628h1v1h-1zM596 628h1v1h-1zM600 628h1v1h-1zM603 628h1v1h-1zM607 628h1v1h-1zM611 628h1v1h-1zM615 628h1v1h-1zM619 628h1v1h-1zM622 628h1v1h-1zM626 628h1v1h-1zM630 628h1v1h-1zM634 628h1v1h-1zM638 628h1v1h-1zM641 628h1v1h-1zM645 628h1v1h-1zM649 628h1v1h-1zM653 628h1v1h-1zM657 628h1v1h-1zM660 628h1v1h-1zM664 628h1v1h-1zM668 628h1v1h-1zM672 628h1v1h-1zM676 628h1v1h-1zM679 628h1v1h-1zM683 628h1v1h-1zM687 628h1v1h-1zM691 628h1v1h-1zM695 628h1v1h-1zM698 628h1v1h-1zM702 628h1v1h-1zM706 628h1v1h-1zM710 628h1v1h-1zM714 628h1v1h-1zM717 628h1v1h-1zM721 628h1v1h-1zM725 628h1v1h-1zM729 628h1v1h-1zM733 628h1v1h-1zM736 628h1v1h-1zM740 628h1v1h-1zM744 628h1v1h-1zM748 628h1v1h-1zM752 628h1v1h-1zM755 628h1v1h-1zM759 628h1v1h-1zM763 628h1v1h-1zM767 628h1v1h-1zM771 628h1v1h-1zM774 628h1v1h-1zM778 628h1v1h-1zM782 628h1v1h-1zM786 628h1v1h-1zM790 628h1v1h-1zM793 628h1v1h-1zM797 628h1v1h-1zM0 628h8v1h-8zM22 639h1v1h-1zM45 639h1v1h-1zM64 639h1v1h-1zM87 639h1v1h-1zM109 639h1v1h-1zM132 639h1v1h-1zM155 639h1v1h-1zM178 639h1v1h-1zM201 639h1v1h-1zM223 639h1v1h-1zM246 639h1v1h-1zM269 639h1v1h-1zM292 639h1v1h-1zM315 639h1v1h-1zM337 639h1v1h-1zM360 639h1v1h-1zM383 639h1v1h-1zM406 639h1v1h-1zM429 639h1v1h-1zM451 639h1v1h-1zM474 639h1v1h-1zM497 639h1v1h-1zM520 639h1v1h-1zM543 639h1v1h-1zM562 639h1v1h-1zM584 639h1v1h-1zM607 639h1v1h-1zM630 639h1v1h-1zM653 639h1v1h-1zM672 639h1v1h-1zM676 639h1v1h-1zM695 639h1v1h-1zM717 639h1v1h-1zM740 639h1v1h-1zM763 639h1v1h-1zM786 639h1v1h-1zM0 639h4v1h-4zM22 650h1v1h-1zM45 650h1v1h-1zM64 650h1v1h-1zM87 650h1v1h-1zM109 650h1v1h-1zM132 650h1v1h-1zM155 650h1v1h-1zM178 650h1v1h-1zM201 650h1v1h-1zM223 650h1v1h-1zM246 650h1v1h-1zM269 650h1v1h-1zM292 650h1v1h-1zM315 650h1v1h-1zM337 650h1v1h-1zM360 650h1v1h-1zM383 650h1v1h-1zM406 650h1v1h-1zM429 650h1v1h-1zM451 650h1v1h-1zM474 650h1v1h-1zM497 650h1v1h-1zM520 650h1v1h-1zM543 650h1v1h-1zM562 650h1v1h-1zM584 650h1v1h-1zM607 650h1v1h-1zM630 650h1v1h-1zM653 650h1v1h-1zM672 650h1v1h-1zM676 650h1v1h-1zM695 650h1v1h-1zM717 650h1v1h-1zM740 650h1v1h-1zM763 650h1v1h-1zM786 650h1v1h-1zM0 650h4v1h-4zM22 661h1v1h-1zM45 661h1v1h-1zM64 661h1v1h-1zM87 661h1v1h-1zM109 661h1v1h-1zM132 661h1v1h-1zM155 661h1v1h-1zM178 661h1v1h-1zM201 661h1v1h-1zM223 661h1v1h-1zM246 661h1v1h-1zM269 661h1v1h-1zM292 661h1v1h-1zM315 661h1v1h-1zM337 661h1v1h-1zM360 661h1v1h-1zM383 661h1v1h-1zM406 661h1v1h-1zM429 661h1v1h-1zM451 661h1v1h-1zM474 661h1v1h-1zM497 661h1v1h-1zM520 661h1v1h-1zM543 661h1v1h-1zM562 661h1v1h-1zM584 661h1v1h-1zM607 661h1v1h-1zM630 661h1v1h-1zM653 661h1v1h-1zM672 661h1v1h-1zM676 661h1v1h-1zM695 661h1v1h-1zM717 661h1v1h-1zM740 661h1v1h-1zM763 661h1v1h-1zM786 661h1v1h-1zM0 661h4v1h-4zM22 672h1v1h-1zM45 672h1v1h-1zM64 672h1v1h-1zM87 672h1v1h-1zM109 672h1v1h-1zM132 672h1v1h-1zM155 672h1v1h-1zM178 672h1v1h-1zM201 672h1v1h-1zM223 672h1v1h-1zM246 672h1v1h-1zM269 672h1v1h-1zM292 672h1v1h-1zM315 672h1v1h-1zM337 672h1v1h-1zM360 672h1v1h-1zM383 672h1v1h-1zM406 672h1v1h-1zM429 672h1v1h-1zM451 672h1v1h-1zM474 672h1v1h-1zM497 672h1v1h-1zM520 672h1v1h-1zM543 672h1v1h-1zM562 672h1v1h-1zM584 672h1v1h-1zM607 672h1v1h-1zM630 672h1v1h-1zM653 672h1v1h-1zM672 672h1v1h-1zM676 672h1v1h-1zM695 672h1v1h-1zM717 672h1v1h-1zM740 672h1v1h-1zM763 672h1v1h-1zM786 672h1v1h-1zM0 672h4v1h-4zM11 684h1v1h-1zM14 684h1v1h-1zM18 684h1v1h-1zM22 684h1v1h-1zM26 684h1v1h-1zM30 684h1v1h-1zM33 684h1v1h-1zM37 684h1v1h-1zM41 684h1v1h-1zM45 684h1v1h-1zM49 684h1v1h-1zM52 684h1v1h-1zM56 684h1v1h-1zM60 684h1v1h-1zM64 684h1v1h-1zM68 684h1v1h-1zM71 684h1v1h-1zM75 684h1v1h-1zM79 684h1v1h-1zM83 684h1v1h-1zM87 684h1v1h-1zM90 684h1v1h-1zM94 684h1v1h-1zM98 684h1v1h-1zM102 684h1v1h-1zM106 684h1v1h-1zM109 684h1v1h-1zM113 684h1v1h-1zM117 684h1v1h-1zM121 684h1v1h-1zM125 684h1v1h-1zM128 684h1v1h-1zM132 684h1v1h-1zM136 684h1v1h-1zM140 684h1v1h-1zM144 684h1v1h-1zM147 684h1v1h-1zM151 684h1v1h-1zM155 684h1v1h-1zM159 684h1v1h-1zM163 684h1v1h-1zM166 684h1v1h-1zM170 684h1v1h-1zM174 684h1v1h-1zM178 684h1v1h-1zM182 684h1v1h-1zM185 684h1v1h-1zM189 684h1v1h-1zM193 684h1v1h-1zM197 684h1v1h-1zM201 684h1v1h-1zM204 684h1v1h-1zM208 684h1v1h-1zM212 684h1v1h-1zM216 684h1v1h-1zM220 684h1v1h-1zM223 684h1v1h-1zM227 684h1v1h-1zM231 684h1v1h-1zM235 684h1v1h-1zM239 684h1v1h-1zM242 684h1v1h-1zM246 684h1v1h-1zM250 684h1v1h-1zM254 684h1v1h-1zM258 684h1v1h-1zM261 684h1v1h-1zM265 684h1v1h-1zM269 684h1v1h-1zM273 684h1v1h-1zM277 684h1v1h-1zM280 684h1v1h-1zM284 684h1v1h-1zM288 684h1v1h-1zM292 684h1v1h-1zM296 684h1v1h-1zM299 684h1v1h-1zM303 684h1v1h-1zM307 684h1v1h-1zM311 684h1v1h-1zM315 684h1v1h-1zM318 684h1v1h-1zM322 684h1v1h-1zM326 684h1v1h-1zM330 684h1v1h-1zM334 684h1v1h-1zM337 684h1v1h-1zM341 684h1v1h-1zM345 684h1v1h-1zM349 684h1v1h-1zM353 684h1v1h-1zM356 684h1v1h-1zM360 684h1v1h-1zM364 684h1v1h-1zM368 684h1v1h-1zM372 684h1v1h-1zM375 684h1v1h-1zM379 684h1v1h-1zM383 684h1v1h-1zM387 684h1v1h-1zM391 684h1v1h-1zM394 684h1v1h-1zM398 684h1v1h-1zM402 684h1v1h-1zM406 684h1v1h-1zM410 684h1v1h-1zM413 684h1v1h-1zM417 684h1v1h-1zM421 684h1v1h-1zM425 684h1v1h-1zM429 684h1v1h-1zM432 684h1v1h-1zM436 684h1v1h-1zM440 684h1v1h-1zM444 684h1v1h-1zM448 684h1v1h-1zM451 684h1v1h-1zM455 684h1v1h-1zM459 684h1v1h-1zM463 684h1v1h-1zM467 684h1v1h-1zM470 684h1v1h-1zM474 684h1v1h-1zM478 684h1v1h-1zM482 684h1v1h-1zM486 684h1v1h-1zM489 684h1v1h-1zM493 684h1v1h-1zM497 684h1v1h-1zM501 684h1v1h-1zM505 684h1v1h-1zM508 684h1v1h-1zM512 684h1v1h-1zM516 684h1v1h-1zM520 684h1v1h-1zM524 684h1v1h-1zM527 684h1v1h-1zM531 684h1v1h-1zM535 684h1v1h-1zM539 684h1v1h-1zM543 684h1v1h-1zM546 684h1v1h-1zM550 684h1v1h-1zM554 684h1v1h-1zM558 684h1v1h-1zM562 684h1v1h-1zM565 684h1v1h-1zM569 684h1v1h-1zM573 684h1v1h-1zM577 684h1v1h-1zM581 684h1v1h-1zM584 684h1v1h-1zM588 684h1v1h-1zM592 684h1v1h-1zM596 684h1v1h-1zM600 684h1v1h-1zM603 684h1v1h-1zM607 684h1v1h-1zM611 684h1v1h-1zM615 684h1v1h-1zM619 684h1v1h-1zM622 684h1v1h-1zM626 684h1v1h-1zM630 684h1v1h-1zM634 684h1v1h-1zM638 684h1v1h-1zM641 684h1v1h-1zM645 684h1v1h-1zM649 684h1v1h-1zM653 684h1v1h-1zM657 684h1v1h-1zM660 684h1v1h-1zM664 684h1v1h-1zM668 684h1v1h-1zM672 684h1v1h-1zM676 684h1v1h-1zM679 684h1v1h-1zM683 684h1v1h-1zM687 684h1v1h-1zM691 684h1v1h-1zM695 684h1v1h-1zM698 684h1v1h-1zM702 684h1v1h-1zM706 684h1v1h-1zM710 684h1v1h-1zM714 684h1v1h-1zM717 684h1v1h-1zM721 684h1v1h-1zM725 684h1v1h-1zM729 684h1v1h-1zM733 684h1v1h-1zM736 684h1v1h-1zM740 684h1v1h-1zM744 684h1v1h-1zM748 684h1v1h-1zM752 684h1v1h-1zM755 684h1v1h-1zM759 684h1v1h-1zM763 684h1v1h-1zM767 684h1v1h-1zM771 684h1v1h-1zM774 684h1v1h-1zM778 684h1v1h-1zM782 684h1v1h-1zM786 684h1v1h-1zM790 684h1v1h-1zM793 684h1v1h-1zM797 684h1v1h-1zM0 684h8v1h-8zM22 695h1v1h-1zM45 695h1v1h-1zM64 695h1v1h-1zM87 695h1v1h-1zM109 695h1v1h-1zM132 695h1v1h-1zM155 695h1v1h-1zM178 695h1v1h-1zM201 695h1v1h-1zM223 695h1v1h-1zM246 695h1v1h-1zM269 695h1v1h-1zM292 695h1v1h-1zM315 695h1v1h-1zM337 695h1v1h-1zM360 695h1v1h-1zM383 695h1v1h-1zM406 695h1v1h-1zM429 695h1v1h-1zM451 695h1v1h-1zM474 695h1v1h-1zM497 695h1v1h-1zM520 695h1v1h-1zM543 695h1v1h-1zM562 695h1v1h-1zM584 695h1v1h-1zM607 695h1v1h-1zM630 695h1v1h-1zM653 695h1v1h-1zM672 695h1v1h-1zM676 695h1v1h-1zM695 695h1v1h-1zM717 695h1v1h-1zM740 695h1v1h-1zM763 695h1v1h-1zM786 695h1v1h-1zM0 695h4v1h-4zM22 706h1v1h-1zM45 706h1v1h-1zM64 706h1v1h-1zM87 706h1v1h-1zM109 706h1v1h-1zM132 706h1v1h-1zM155 706h1v1h-1zM178 706h1v1h-1zM201 706h1v1h-1zM223 706h1v1h-1zM246 706h1v1h-1zM269 706h1v1h-1zM292 706h1v1h-1zM315 706h1v1h-1zM337 706h1v1h-1zM360 706h1v1h-1zM383 706h1v1h-1zM406 706h1v1h-1zM429 706h1v1h-1zM451 706h1v1h-1zM474 706h1v1h-1zM497 706h1v1h-1zM520 706h1v1h-1zM543 706h1v1h-1zM562 706h1v1h-1zM584 706h1v1h-1zM607 706h1v1h-1zM630 706h1v1h-1zM653 706h1v1h-1zM672 706h1v1h-1zM676 706h1v1h-1zM695 706h1v1h-1zM717 706h1v1h-1zM740 706h1v1h-1zM763 706h1v1h-1zM786 706h1v1h-1zM0 706h4v1h-4zM22 717h1v1h-1zM45 717h1v1h-1zM64 717h1v1h-1zM87 717h1v1h-1zM109 717h1v1h-1zM132 717h1v1h-1zM155 717h1v1h-1zM178 717h1v1h-1zM201 717h1v1h-1zM223 717h1v1h-1zM246 717h1v1h-1zM269 717h1v1h-1zM292 717h1v1h-1zM315 717h1v1h-1zM337 717h1v1h-1zM360 717h1v1h-1zM383 717h1v1h-1zM406 717h1v1h-1zM429 717h1v1h-1zM451 717h1v1h-1zM474 717h1v1h-1zM497 717h1v1h-1zM520 717h1v1h-1zM543 717h1v1h-1zM562 717h1v1h-1zM584 717h1v1h-1zM607 717h1v1h-1zM630 717h1v1h-1zM653 717h1v1h-1zM672 717h1v1h-1zM676 717h1v1h-1zM695 717h1v1h-1zM717 717h1v1h-1zM740 717h1v1h-1zM763 717h1v1h-1zM786 717h1v1h-1zM0 717h4v1h-4zM22 728h1v1h-1zM45 728h1v1h-1zM64 728h1v1h-1zM87 728h1v1h-1zM109 728h1v1h-1zM132 728h1v1h-1zM155 728h1v1h-1zM178 728h1v1h-1zM201 728h1v1h-1zM223 728h1v1h-1zM246 728h1v1h-1zM269 728h1v1h-1zM292 728h1v1h-1zM315 728h1v1h-1zM337 728h1v1h-1zM360 728h1v1h-1zM383 728h1v1h-1zM406 728h1v1h-1zM429 728h1v1h-1zM451 728h1v1h-1zM474 728h1v1h-1zM497 728h1v1h-1zM520 728h1v1h-1zM543 728h1v1h-1zM562 728h1v1h-1zM584 728h1v1h-1zM607 728h1v1h-1zM630 728h1v1h-1zM653 728h1v1h-1zM672 728h1v1h-1zM676 728h1v1h-1zM695 728h1v1h-1zM717 728h1v1h-1zM740 728h1v1h-1zM763 728h1v1h-1zM786 728h1v1h-1zM0 728h4v1h-4zM11 740h1v1h-1zM14 740h1v1h-1zM18 740h1v1h-1zM22 740h1v1h-1zM26 740h1v1h-1zM30 740h1v1h-1zM33 740h1v1h-1zM37 740h1v1h-1zM41 740h1v1h-1zM45 740h1v1h-1zM49 740h1v1h-1zM52 740h1v1h-1zM56 740h1v1h-1zM60 740h1v1h-1zM64 740h1v1h-1zM68 740h1v1h-1zM71 740h1v1h-1zM75 740h1v1h-1zM79 740h1v1h-1zM83 740h1v1h-1zM87 740h1v1h-1zM90 740h1v1h-1zM94 740h1v1h-1zM98 740h1v1h-1zM102 740h1v1h-1zM106 740h1v1h-1zM109 740h1v1h-1zM113 740h1v1h-1zM117 740h1v1h-1zM121 740h1v1h-1zM125 740h1v1h-1zM128 740h1v1h-1zM132 740h1v1h-1zM136 740h1v1h-1zM140 740h1v1h-1zM144 740h1v1h-1zM147 740h1v1h-1zM151 740h1v1h-1zM155 740h1v1h-1zM159 740h1v1h-1zM163 740h1v1h-1zM166 740h1v1h-1zM170 740h1v1h-1zM174 740h1v1h-1zM178 740h1v1h-1zM182 740h1v1h-1zM185 740h1v1h-1zM189 740h1v1h-1zM193 740h1v1h-1zM197 740h1v1h-1zM201 740h1v1h-1zM204 740h1v1h-1zM208 740h1v1h-1zM212 740h1v1h-1zM216 740h1v1h-1zM220 740h1v1h-1zM223 740h1v1h-1zM227 740h1v1h-1zM231 740h1v1h-1zM235 740h1v1h-1zM239 740h1v1h-1zM242 740h1v1h-1zM246 740h1v1h-1zM250 740h1v1h-1zM254 740h1v1h-1zM258 740h1v1h-1zM261 740h1v1h-1zM265 740h1v1h-1zM269 740h1v1h-1zM273 740h1v1h-1zM277 740h1v1h-1zM280 740h1v1h-1zM284 740h1v1h-1zM288 740h1v1h-1zM292 740h1v1h-1zM296 740h1v1h-1zM299 740h1v1h-1zM303 740h1v1h-1zM307 740h1v1h-1zM311 740h1v1h-1zM315 740h1v1h-1zM318 740h1v1h-1zM322 740h1v1h-1zM326 740h1v1h-1zM330 740h1v1h-1zM334 740h1v1h-1zM337 740h1v1h-1zM341 740h1v1h-1zM345 740h1v1h-1zM349 740h1v1h-1zM353 740h1v1h-1zM356 740h1v1h-1zM360 740h1v1h-1zM364 740h1v1h-1zM368 740h1v1h-1zM372 740h1v1h-1zM375 740h1v1h-1zM379 740h1v1h-1zM383 740h1v1h-1zM387 740h1v1h-1zM391 740h1v1h-1zM394 740h1v1h-1zM398 740h1v1h-1zM402 740h1v1h-1zM406 740h1v1h-1zM410 740h1v1h-1zM413 740h1v1h-1zM417 740h1v1h-1zM421 740h1v1h-1zM425 740h1v1h-1zM429 740h1v1h-1zM432 740h1v1h-1zM436 740h1v1h-1zM440 740h1v1h-1zM444 740h1v1h-1zM448 740h1v1h-1zM451 740h1v1h-1zM455 740h1v1h-1zM459 740h1v1h-1zM463 740h1v1h-1zM467 740h1v1h-1zM470 740h1v1h-1zM474 740h1v1h-1zM478 740h1v1h-1zM482 740h1v1h-1zM486 740h1v1h-1zM489 740h1v1h-1zM493 740h1v1h-1zM497 740h1v1h-1zM501 740h1v1h-1zM505 740h1v1h-1zM508 740h1v1h-1zM512 740h1v1h-1zM516 740h1v1h-1zM520 740h1v1h-1zM524 740h1v1h-1zM527 740h1v1h-1zM531 740h1v1h-1zM535 740h1v1h-1zM539 740h1v1h-1zM543 740h1v1h-1zM546 740h1v1h-1zM550 740h1v1h-1zM554 740h1v1h-1zM558 740h1v1h-1zM562 740h1v1h-1zM565 740h1v1h-1zM569 740h1v1h-1zM573 740h1v1h-1zM577 740h1v1h-1zM581 740h1v1h-1zM584 740h1v1h-1zM588 740h1v1h-1zM592 740h1v1h-1zM596 740h1v1h-1zM600 740h1v1h-1zM603 740h1v1h-1zM607 740h1v1h-1zM611 740h1v1h-1zM615 740h1v1h-1zM619 740h1v1h-1zM622 740h1v1h-1zM626 740h1v1h-1zM630 740h1v1h-1zM634 740h1v1h-1zM638 740h1v1h-1zM641 740h1v1h-1zM645 740h1v1h-1zM649 740h1v1h-1zM653 740h1v1h-1zM657 740h1v1h-1zM660 740h1v1h-1zM664 740h1v1h-1zM668 740h1v1h-1zM672 740h1v1h-1zM676 740h1v1h-1zM679 740h1v1h-1zM683 740h1v1h-1zM687 740h1v1h-1zM691 740h1v1h-1zM695 740h1v1h-1zM698 740h1v1h-1zM702 740h1v1h-1zM706 740h1v1h-1zM710 740h1v1h-1zM714 740h1v1h-1zM717 740h1v1h-1zM721 740h1v1h-1zM725 740h1v1h-1zM729 740h1v1h-1zM733 740h1v1h-1zM736 740h1v1h-1zM740 740h1v1h-1zM744 740h1v1h-1zM748 740h1v1h-1zM752 740h1v1h-1zM755 740h1v1h-1zM759 740h1v1h-1zM763 740h1v1h-1zM767 740h1v1h-1zM771 740h1v1h-1zM774 740h1v1h-1zM778 740h1v1h-1zM782 740h1v1h-1zM786 740h1v1h-1zM790 740h1v1h-1zM793 740h1v1h-1zM797 740h1v1h-1zM0 740h8v1h-8zM22 751h1v1h-1zM45 751h1v1h-1zM64 751h1v1h-1zM87 751h1v1h-1zM109 751h1v1h-1zM132 751h1v1h-1zM155 751h1v1h-1zM178 751h1v1h-1zM201 751h1v1h-1zM223 751h1v1h-1zM246 751h1v1h-1zM269 751h1v1h-1zM292 751h1v1h-1zM315 751h1v1h-1zM337 751h1v1h-1zM360 751h1v1h-1zM383 751h1v1h-1zM406 751h1v1h-1zM429 751h1v1h-1zM451 751h1v1h-1zM474 751h1v1h-1zM497 751h1v1h-1zM520 751h1v1h-1zM543 751h1v1h-1zM562 751h1v1h-1zM584 751h1v1h-1zM607 751h1v1h-1zM630 751h1v1h-1zM653 751h1v1h-1zM672 751h1v1h-1zM676 751h1v1h-1zM695 751h1v1h-1zM717 751h1v1h-1zM740 751h1v1h-1zM763 751h1v1h-1zM786 751h1v1h-1zM0 751h4v1h-4zM22 762h1v1h-1zM45 762h1v1h-1zM64 762h1v1h-1zM87 762h1v1h-1zM109 762h1v1h-1zM132 762h1v1h-1zM155 762h1v1h-1zM178 762h1v1h-1zM201 762h1v1h-1zM223 762h1v1h-1zM246 762h1v1h-1zM269 762h1v1h-1zM292 762h1v1h-1zM315 762h1v1h-1zM337 762h1v1h-1zM360 762h1v1h-1zM383 762h1v1h-1zM406 762h1v1h-1zM429 762h1v1h-1zM451 762h1v1h-1zM474 762h1v1h-1zM497 762h1v1h-1zM520 762h1v1h-1zM543 762h1v1h-1zM562 762h1v1h-1zM584 762h1v1h-1zM607 762h1v1h-1zM630 762h1v1h-1zM653 762h1v1h-1zM672 762h1v1h-1zM676 762h1v1h-1zM695 762h1v1h-1zM717 762h1v1h-1zM740 762h1v1h-1zM763 762h1v1h-1zM786 762h1v1h-1zM0 762h4v1h-4zM22 773h1v1h-1zM45 773h1v1h-1zM64 773h1v1h-1zM87 773h1v1h-1zM109 773h1v1h-1zM132 773h1v1h-1zM155 773h1v1h-1zM178 773h1v1h-1zM201 773h1v1h-1zM223 773h1v1h-1zM246 773h1v1h-1zM269 773h1v1h-1zM292 773h1v1h-1zM315 773h1v1h-1zM337 773h1v1h-1zM360 773h1v1h-1zM383 773h1v1h-1zM406 773h1v1h-1zM429 773h1v1h-1zM451 773h1v1h-1zM474 773h1v1h-1zM497 773h1v1h-1zM520 773h1v1h-1zM543 773h1v1h-1zM562 773h1v1h-1zM584 773h1v1h-1zM607 773h1v1h-1zM630 773h1v1h-1zM653 773h1v1h-1zM672 773h1v1h-1zM676 773h1v1h-1zM695 773h1v1h-1zM717 773h1v1h-1zM740 773h1v1h-1zM763 773h1v1h-1zM786 773h1v1h-1zM0 773h4v1h-4zM22 784h1v1h-1zM45 784h1v1h-1zM64 784h1v1h-1zM87 784h1v1h-1zM109 784h1v1h-1zM132 784h1v1h-1zM155 784h1v1h-1zM178 784h1v1h-1zM201 784h1v1h-1zM223 784h1v1h-1zM246 784h1v1h-1zM269 784h1v1h-1zM292 784h1v1h-1zM315 784h1v1h-1zM337 784h1v1h-1zM360 784h1v1h-1zM383 784h1v1h-1zM406 784h1v1h-1zM429 784h1v1h-1zM451 784h1v1h-1zM474 784h1v1h-1zM497 784h1v1h-1zM520 784h1v1h-1zM543 784h1v1h-1zM562 784h1v1h-1zM584 784h1v1h-1zM607 784h1v1h-1zM630 784h1v1h-1zM653 784h1v1h-1zM672 784h1v1h-1zM676 784h1v1h-1zM695 784h1v1h-1zM717 784h1v1h-1zM740 784h1v1h-1zM763 784h1v1h-1zM786 784h1v1h-1zM0 784h4v1h-4zM11 796h1v1h-1zM14 796h1v1h-1zM18 796h1v1h-1zM22 796h1v1h-1zM26 796h1v1h-1zM30 796h1v1h-1zM33 796h1v1h-1zM37 796h1v1h-1zM41 796h1v1h-1zM45 796h1v1h-1zM49 796h1v1h-1zM52 796h1v1h-1zM56 796h1v1h-1zM60 796h1v1h-1zM64 796h1v1h-1zM68 796h1v1h-1zM71 796h1v1h-1zM75 796h1v1h-1zM79 796h1v1h-1zM83 796h1v1h-1zM87 796h1v1h-1zM90 796h1v1h-1zM94 796h1v1h-1zM98 796h1v1h-1zM102 796h1v1h-1zM106 796h1v1h-1zM109 796h1v1h-1zM113 796h1v1h-1zM117 796h1v1h-1zM121 796h1v1h-1zM125 796h1v1h-1zM128 796h1v1h-1zM132 796h1v1h-1zM136 796h1v1h-1zM140 796h1v1h-1zM144 796h1v1h-1zM147 796h1v1h-1zM151 796h1v1h-1zM155 796h1v1h-1zM159 796h1v1h-1zM163 796h1v1h-1zM166 796h1v1h-1zM170 796h1v1h-1zM174 796h1v1h-1zM178 796h1v1h-1zM182 796h1v1h-1zM185 796h1v1h-1zM189 796h1v1h-1zM193 796h1v1h-1zM197 796h1v1h-1zM201 796h1v1h-1zM204 796h1v1h-1zM208 796h1v1h-1zM212 796h1v1h-1zM216 796h1v1h-1zM220 796h1v1h-1zM223 796h1v1h-1zM227 796h1v1h-1zM231 796h1v1h-1zM235 796h1v1h-1zM239 796h1v1h-1zM242 796h1v1h-1zM246 796h1v1h-1zM250 796h1v1h-1zM254 796h1v1h-1zM258 796h1v1h-1zM261 796h1v1h-1zM265 796h1v1h-1zM269 796h1v1h-1zM273 796h1v1h-1zM277 796h1v1h-1zM280 796h1v1h-1zM284 796h1v1h-1zM288 796h1v1h-1zM292 796h1v1h-1zM296 796h1v1h-1zM299 796h1v1h-1zM303 796h1v1h-1zM307 796h1v1h-1zM311 796h1v1h-1zM315 796h1v1h-1zM318 796h1v1h-1zM322 796h1v1h-1zM326 796h1v1h-1zM330 796h1v1h-1zM334 796h1v1h-1zM337 796h1v1h-1zM341 796h1v1h-1zM345 796h1v1h-1zM349 796h1v1h-1zM353 796h1v1h-1zM356 796h1v1h-1zM360 796h1v1h-1zM364 796h1v1h-1zM368 796h1v1h-1zM372 796h1v1h-1zM375 796h1v1h-1zM379 796h1v1h-1zM383 796h1v1h-1zM387 796h1v1h-1zM391 796h1v1h-1zM394 796h1v1h-1zM398 796h1v1h-1zM402 796h1v1h-1zM406 796h1v1h-1zM410 796h1v1h-1zM413 796h1v1h-1zM417 796h1v1h-1zM421 796h1v1h-1zM425 796h1v1h-1zM429 796h1v1h-1zM432 796h1v1h-1zM436 796h1v1h-1zM440 796h1v1h-1zM444 796h1v1h-1zM448 796h1v1h-1zM451 796h1v1h-1zM455 796h1v1h-1zM459 796h1v1h-1zM463 796h1v1h-1zM467 796h1v1h-1zM470 796h1v1h-1zM474 796h1v1h-1zM478 796h1v1h-1zM482 796h1v1h-1zM486 796h1v1h-1zM489 796h1v1h-1zM493 796h1v1h-1zM497 796h1v1h-1zM501 796h1v1h-1zM505 796h1v1h-1zM508 796h1v1h-1zM512 796h1v1h-1zM516 796h1v1h-1zM520 796h1v1h-1zM524 796h1v1h-1zM527 796h1v1h-1zM531 796h1v1h-1zM535 796h1v1h-1zM539 796h1v1h-1zM543 796h1v1h-1zM546 796h1v1h-1zM550 796h1v1h-1zM554 796h1v1h-1zM558 796h1v1h-1zM562 796h1v1h-1zM565 796h1v1h-1zM569 796h1v1h-1zM573 796h1v1h-1zM577 796h1v1h-1zM581 796h1v1h-1zM584 796h1v1h-1zM588 796h1v1h-1zM592 796h1v1h-1zM596 796h1v1h-1zM600 796h1v1h-1zM603 796h1v1h-1zM607 796h1v1h-1zM611 796h1v1h-1zM615 796h1v1h-1zM619 796h1v1h-1zM622 796h1v1h-1zM626 796h1v1h-1zM630 796h1v1h-1zM634 796h1v1h-1zM638 796h1v1h-1zM641 796h1v1h-1zM645 796h1v1h-1zM649 796h1v1h-1zM653 796h1v1h-1zM657 796h1v1h-1zM660 796h1v1h-1zM664 796h1v1h-1zM668 796h1v1h-1zM672 796h1v1h-1zM676 796h1v1h-1zM679 796h1v1h-1zM683 796h1v1h-1zM687 796h1v1h-1zM691 796h1v1h-1zM695 796h1v1h-1zM698 796h1v1h-1zM702 796h1v1h-1zM706 796h1v1h-1zM710 796h1v1h-1zM714 796h1v1h-1zM717 796h1v1h-1zM721 796h1v1h-1zM725 796h1v1h-1zM729 796h1v1h-1zM733 796h1v1h-1zM736 796h1v1h-1zM740 796h1v1h-1zM744 796h1v1h-1zM748 796h1v1h-1zM752 796h1v1h-1zM755 796h1v1h-1zM759 796h1v1h-1zM763 796h1v1h-1zM767 796h1v1h-1zM771 796h1v1h-1zM774 796h1v1h-1zM778 796h1v1h-1zM782 796h1v1h-1zM786 796h1v1h-1zM790 796h1v1h-1zM793 796h1v1h-1zM797 796h1v1h-1zM0 796h8v1h-8z" fill="#000"/>
<rect x="0" y="120" width="1099" height="1" fill="#808080"/>
</g>
<line x1="58.5" y1="559.5" x2="1059.8" y2="0" stroke="#00009c" stroke-width="2.3" stroke-dasharray="5.4 2.4" shape-rendering="crispEdges"/>
<line x1="332.4" y1="112.3" x2="1097" y2="359.2" stroke="#ff0000" stroke-width="2.3" stroke-dasharray="5.4 2.4" shape-rendering="crispEdges"/>
<line x1="229.4" y1="228.8" x2="1097" y2="495.3" stroke="#ff0000" stroke-width="2.3" stroke-dasharray="5.4 2.4" shape-rendering="crispEdges"/>
<line x1="503" y1="208" x2="1097" y2="114.2" stroke="#007800" stroke-width="2.3" stroke-dasharray="5.4 2.4" shape-rendering="crispEdges"/>
<line x1="507" y1="311" x2="1097" y2="214" stroke="#007800" stroke-width="2.3" stroke-dasharray="5.4 2.4" shape-rendering="crispEdges"/>
<polyline points="0.0,108.5 1.0,109.2 15.3,119.4 30.6,130.6 51.0,146.9 59.2,156.1 75.5,169.4 87.8,176.5 102.0,182.7 114.3,189.8 124.5,193.9 142.9,198.4 163.3,203.1 179.6,205.7 193.9,208.2 215.0,208.0 244.0,206.8 285.0,204.6 330.0,202.0 372.4,202.5 406.9,202.5 415.8,202.5 430.8,205.1 448.8,210.3 469.7,215.6 490.7,223.0 502.7,227.5 509.0,230.1 545.0,240.6 571.9,248.1 595.8,253.1 616.8,258.6 634.7,262.3 652.7,266.1 676.0,267.6 685.7,266.8 721.4,264.6 750.0,260.4 771.4,255.0 800.0,245.0" fill="none" stroke="#ff8040" stroke-width="1" shape-rendering="crispEdges"/>
<polyline points="0.0,182.0 1.6,184.7 12.2,204.1 20.4,217.3 34.7,244.9 51.0,274.5 65.3,300.0 79.3,335.0 89.8,351.5 100.3,362.0 110.8,373.2 119.8,382.9 131.7,388.1 149.7,391.9 169.2,395.3 176.0,394.6 182.8,391.4 201.5,380.2 223.9,356.0 238.8,335.8 253.0,308.8 266.5,284.0 285.0,262.4 301.0,243.0 310.3,233.0 319.3,224.8 332.7,210.5 344.7,205.0 356.7,198.6 365.0,196.6 377.0,190.1 386.0,186.1 395.0,187.6 412.8,187.1 418.8,185.3 439.8,185.3 448.8,188.6 462.2,193.6 478.7,199.1 489.2,203.6 495.2,208.1 503.0,211.5 515.0,218.2 524.0,224.2 531.4,227.6 545.0,227.6 574.9,229.4 582.3,228.2 595.8,230.9 604.8,235.4 616.8,244.4 631.7,251.6 649.7,250.4 664.7,249.2 676.0,247.4 690.0,242.5 712.3,236.0 720.8,234.2 733.0,233.5 747.7,232.2 763.0,227.5 775.7,224.0 787.7,217.3 799.7,207.1" fill="none" stroke="#0000ff" stroke-width="1" shape-rendering="crispEdges"/>
<path d="M1 399h1V453h-1zM0 400h3V404h-3zM5 390h1V422h-1zM4 400h3V404h-3zM9 364h1V408h-1zM8 371h3V403h-3zM13 347h1V398h-1zM12 371h3V394h-3zM16 385h1V429h-1zM15 386h3V395h-3zM19 386h3v1h-3zM20 386h1V389h-1zM24 360h1V433h-1zM23 385h3V432h-3zM28 417h1V444h-1zM27 429h3v1h-3zM32 414h1V442h-1zM31 429h3V438h-3zM35 415h1V448h-1zM34 419h3V438h-3zM39 413h1V432h-1zM38 419h3V425h-3zM42 423h3v1h-3zM43 420h1V424h-1zM47 433h1V470h-1zM46 448h3V455h-3zM51 445h1V502h-1zM50 448h3V499h-3zM54 495h1V555h-1zM53 497h3V548h-3zM58 511h1V561h-1zM57 513h3V546h-3zM61 512h3V517h-3zM66 514h1V544h-1zM65 515h3v1h-3zM70 487h1V527h-1zM69 490h3V517h-3zM73 477h1V512h-1zM72 483h3V491h-3zM77 478h1V525h-1zM76 483h3V507h-3zM81 410h1V512h-1zM80 422h3V507h-3zM84 422h3v1h-3zM85 418h1V423h-1zM89 420h1V458h-1zM88 425h3v1h-3zM92 361h1V430h-1zM91 373h3V427h-3zM96 370h1V398h-1zM95 373h3V390h-3zM100 349h1V397h-1zM99 378h3V392h-3zM104 378h1V421h-1zM103 378h3V419h-3zM107 417h3v1h-3zM108 416h1V419h-1zM111 368h1V418h-1zM110 388h3V418h-3zM115 377h1V421h-1zM114 388h3V417h-3zM119 372h1V420h-1zM118 374h3V417h-3zM123 364h1V409h-1zM122 374h3v1h-3zM127 332h1V378h-1zM126 342h3V376h-3zM129 342h3V346h-3zM134 330h1V371h-1zM133 332h3V346h-3zM138 313h1V343h-1zM137 330h3V334h-3zM142 303h1V337h-1zM141 304h3V331h-3zM146 260h1V307h-1zM145 268h3V305h-3zM149 267h1V300h-1zM148 268h3V285h-3zM152 284h3v1h-3zM153 282h1V287h-1zM157 283h1V349h-1zM156 283h3V331h-3zM161 317h1V348h-1zM160 327h3V331h-3zM165 313h1V356h-1zM164 318h3V329h-3zM168 291h1V333h-1zM167 303h3V320h-3zM172 285h1V306h-1zM171 288h3V304h-3zM175 285h3V289h-3zM180 279h1V302h-1zM179 288h3V296h-3zM184 286h1V323h-1zM183 295h3V323h-3zM187 279h1V325h-1zM186 301h3V323h-3zM191 274h1V311h-1zM190 294h3V302h-3zM195 246h1V298h-1zM194 252h3V296h-3zM198 248h3V253h-3zM203 236h1V266h-1zM202 238h3V249h-3zM206 194h1V248h-1zM205 206h3V240h-3zM210 183h1V222h-1zM209 203h3V207h-3zM214 181h1V210h-1zM213 182h3V205h-3zM218 179h1V214h-1zM217 182h3v1h-3zM221 181h3v1h-3zM222 180h1V184h-1zM225 185h1V217h-1zM224 209h3V213h-3zM229 196h1V214h-1zM228 200h3V210h-3zM233 160h1V210h-1zM232 166h3V201h-3zM237 151h1V179h-1zM236 166h3v1h-3zM241 160h1V192h-1zM240 165h3V176h-3zM243 175h3v1h-3zM244 175h1V179h-1zM248 162h1V191h-1zM247 171h3V179h-3zM252 148h1V181h-1zM251 167h3V179h-3zM256 153h1V181h-1zM255 157h3V168h-3zM260 136h1V167h-1zM259 157h3V163h-3zM263 153h1V189h-1zM262 161h3V185h-3zM266 181h3V185h-3zM271 149h1V210h-1zM270 168h3V198h-3zM275 186h1V208h-1zM274 192h3V198h-3zM279 183h1V211h-1zM278 193h3v1h-3zM282 181h1V200h-1zM281 186h3V193h-3zM286 160h1V192h-1zM285 161h3V192h-3zM289 159h3V163h-3zM294 142h1V173h-1zM293 145h3V164h-3zM298 132h1V175h-1zM297 146h3V170h-3zM301 166h1V192h-1zM300 169h3V185h-3zM305 155h1V193h-1zM304 184h3V192h-3zM309 162h1V198h-1zM308 164h3V191h-3zM312 164h3v1h-3zM313 164h1V168h-1zM317 163h1V182h-1zM316 168h3V174h-3zM320 159h1V175h-1zM319 162h3V169h-3zM324 142h1V169h-1zM323 155h3V164h-3zM328 128h1V167h-1zM327 145h3V156h-3zM332 112h1V149h-1zM331 130h3V146h-3zM335 131h3v1h-3zM336 130h1V133h-1zM339 126h1V211h-1zM338 130h3V185h-3zM343 166h1V209h-1zM342 184h3V203h-3zM347 188h1V274h-1zM346 202h3V265h-3zM351 225h1V279h-1zM350 225h3V265h-3zM355 209h1V234h-1zM354 210h3V226h-3zM357 210h3v1h-3zM358 208h1V211h-1zM362 214h1V253h-1zM361 215h3V237h-3zM366 211h1V243h-1zM365 232h3V237h-3zM370 228h1V258h-1zM369 232h3V237h-3zM374 195h1V239h-1zM373 198h3V237h-3zM377 181h1V212h-1zM376 198h3V203h-3zM380 200h3v1h-3zM385 183h1V212h-1zM384 201h3V208h-3zM389 196h1V215h-1zM388 201h3V214h-3zM393 213h1V270h-1zM392 213h3V265h-3zM396 192h1V265h-1zM395 196h3V265h-3zM400 187h1V226h-1zM399 196h3V206h-3zM403 205h3v1h-3zM404 205h1V209h-1zM408 199h1V227h-1zM407 201h3V212h-3zM412 161h1V205h-1zM411 167h3V203h-3zM415 148h1V177h-1zM414 168h3v1h-3zM419 140h1V170h-1zM418 142h3V169h-3zM423 141h1V175h-1zM422 142h3V162h-3zM426 161h3V165h-3zM431 165h1V197h-1zM430 168h3V188h-3zM434 159h1V182h-1zM433 168h3V176h-3zM438 167h1V192h-1zM437 175h3V189h-3zM442 178h1V211h-1zM441 187h3V199h-3zM446 183h1V235h-1zM445 197h3V234h-3zM449 232h3v1h-3zM450 231h1V235h-1zM453 218h1V248h-1zM452 237h3v1h-3zM457 235h1V275h-1zM456 236h3V262h-3zM461 243h1V283h-1zM460 261h3V268h-3zM465 244h1V273h-1zM464 255h3V268h-3zM469 238h1V274h-1zM468 239h3V256h-3zM471 240h3v1h-3zM472 238h1V243h-1zM476 229h1V257h-1zM475 246h3v1h-3zM480 231h1V255h-1zM479 246h3V252h-3zM484 236h1V258h-1zM483 250h3V258h-3zM488 247h1V269h-1zM487 257h3V263h-3zM491 251h1V303h-1zM490 261h3V298h-3zM494 297h3v1h-3zM495 295h1V301h-1zM499 261h1V313h-1zM498 263h3V303h-3zM503 213h1V278h-1zM502 220h3V264h-3zM507 208h1V287h-1zM506 220h3V281h-3zM510 261h1V293h-1zM509 274h3V281h-3zM514 236h1V292h-1zM513 241h3V275h-3zM517 242h3v1h-3zM518 240h1V245h-1zM522 242h1V272h-1zM521 262h3v1h-3zM526 260h1V287h-1zM525 263h3V277h-3zM529 243h1V282h-1zM528 256h3V277h-3zM533 239h1V276h-1zM532 256h3V266h-3zM537 246h1V272h-1zM536 250h3V266h-3zM540 245h3V251h-3zM545 199h1V245h-1zM544 206h3V241h-3zM548 205h1V250h-1zM547 206h3V233h-3zM552 211h1V241h-1zM551 219h3V233h-3zM556 215h1V233h-1zM555 219h3V229h-3zM560 209h1V233h-1zM559 212h3V229h-3zM564 212h1V230h-1zM563 213h3V221h-3zM567 212h1V245h-1zM566 220h3V238h-3zM571 230h1V258h-1zM570 236h3V241h-3zM575 213h1V243h-1zM574 224h3V241h-3zM579 212h1V230h-1zM578 215h3V226h-3zM582 216h3v1h-3zM583 215h1V218h-1zM586 198h1V225h-1zM585 215h3V221h-3zM590 219h1V247h-1zM589 220h3V236h-3zM594 224h1V255h-1zM593 235h3V254h-3zM598 245h1V286h-1zM597 252h3V283h-3zM602 265h1V285h-1zM601 278h3V283h-3zM604 278h3v1h-3zM605 274h1V279h-1zM609 270h1V297h-1zM608 286h3V292h-3zM613 276h1V296h-1zM612 283h3V292h-3zM617 249h1V285h-1zM616 260h3V285h-3zM621 259h1V290h-1zM620 261h3V286h-3zM624 259h1V289h-1zM623 261h3V286h-3zM627 261h3v1h-3zM628 259h1V264h-1zM632 256h1V271h-1zM631 260h3V266h-3zM636 249h1V268h-1zM635 249h3V266h-3zM640 225h1V254h-1zM639 226h3V251h-3zM643 223h1V239h-1zM642 226h3V232h-3zM647 228h1V255h-1zM646 230h3V251h-3zM650 249h3v1h-3zM651 246h1V250h-1zM655 249h1V263h-1zM654 249h3V254h-3zM659 213h1V249h-1zM658 215h3V247h-3zM662 210h1V233h-1zM661 215h3v1h-3zM666 212h1V236h-1zM665 214h3V224h-3zM669 223h3V228h-3zM674 214h1V244h-1zM673 218h3V229h-3zM677 218h3v1h-3zM681 189h1V210h-1zM680 198h3V207h-3zM685 193h1V210h-1zM684 198h3V203h-3zM689 200h1V229h-1zM688 201h3V216h-3zM692 211h3V216h-3zM697 210h1V226h-1zM696 211h3v1h-3zM700 195h1V217h-1zM699 203h3V213h-3zM704 199h1V218h-1zM703 202h3V208h-3zM708 183h1V212h-1zM707 206h3v1h-3zM712 204h1V241h-1zM711 205h3V225h-3zM715 223h3v1h-3zM716 223h1V227h-1zM719 215h1V243h-1zM718 216h3V236h-3zM723 210h1V242h-1zM722 216h3V240h-3zM727 228h1V245h-1zM726 238h3v1h-3zM731 212h1V243h-1zM730 218h3V238h-3zM735 203h1V227h-1zM734 204h3V220h-3zM737 206h3v1h-3zM738 204h1V209h-1zM742 203h1V213h-1zM741 206h3v1h-3zM746 193h1V214h-1zM745 195h3V208h-3zM750 185h1V203h-1zM749 186h3V197h-3zM754 178h1V198h-1zM753 184h3V188h-3zM757 174h1V192h-1zM756 181h3V185h-3zM760 181h3v1h-3zM761 180h1V184h-1zM765 175h1V195h-1zM764 180h3V183h-3zM769 166h1V188h-1zM768 169h3V181h-3zM773 154h1V173h-1zM772 157h3V171h-3zM776 145h1V170h-1zM775 150h3V158h-3zM780 126h1V153h-1zM779 131h3V151h-3zM783 131h3V135h-3zM788 132h1V154h-1zM787 134h3V149h-3zM792 123h1V158h-1zM791 133h3V149h-3zM795 126h1V148h-1zM794 129h3V135h-3zM799 114h1V132h-1zM798 120h3V130h-3z" fill="#000" shape-rendering="crispEdges"/>
<path d="M0.75 401h1.5V403h-1.5zM8.75 372h1.5V402h-1.5zM15.75 387h1.5V394h-1.5zM34.75 420h1.5V437h-1.5zM46.75 449h1.5V454h-1.5zM57.75 514h1.5V545h-1.5zM69.75 491h1.5V516h-1.5zM72.75 484h1.5V490h-1.5zM80.75 423h1.5V506h-1.5zM91.75 374h1.5V426h-1.5zM99.75 379h1.5V391h-1.5zM110.75 389h1.5V417h-1.5zM118.75 375h1.5V416h-1.5zM126.75 343h1.5V375h-1.5zM133.75 333h1.5V345h-1.5zM137.75 331h1.5V333h-1.5zM141.75 305h1.5V330h-1.5zM145.75 269h1.5V304h-1.5zM160.75 328h1.5V330h-1.5zM164.75 319h1.5V328h-1.5zM167.75 304h1.5V319h-1.5zM171.75 289h1.5V303h-1.5zM175.75 285.75h1.5V288.25h-1.5zM186.75 302h1.5V322h-1.5zM190.75 295h1.5V301h-1.5zM194.75 253h1.5V295h-1.5zM198.75 248.75h1.5V252.25h-1.5zM202.75 239h1.5V248h-1.5zM205.75 207h1.5V239h-1.5zM209.75 204h1.5V206h-1.5zM213.75 183h1.5V204h-1.5zM224.75 210h1.5V212h-1.5zM228.75 201h1.5V209h-1.5zM232.75 167h1.5V200h-1.5zM251.75 168h1.5V178h-1.5zM255.75 158h1.5V167h-1.5zM266.75 181.75h1.5V184.25h-1.5zM274.75 193h1.5V197h-1.5zM281.75 187h1.5V192h-1.5zM285.75 162h1.5V191h-1.5zM289.75 159.75h1.5V162.25h-1.5zM293.75 146h1.5V163h-1.5zM308.75 165h1.5V190h-1.5zM316.75 169h1.5V173h-1.5zM319.75 163h1.5V168h-1.5zM323.75 156h1.5V163h-1.5zM327.75 146h1.5V155h-1.5zM331.75 131h1.5V145h-1.5zM350.75 226h1.5V264h-1.5zM354.75 211h1.5V225h-1.5zM365.75 233h1.5V236h-1.5zM373.75 199h1.5V236h-1.5zM384.75 202h1.5V207h-1.5zM395.75 197h1.5V264h-1.5zM407.75 202h1.5V211h-1.5zM411.75 168h1.5V202h-1.5zM418.75 143h1.5V168h-1.5zM430.75 169h1.5V187h-1.5zM464.75 256h1.5V267h-1.5zM468.75 240h1.5V255h-1.5zM498.75 264h1.5V302h-1.5zM502.75 221h1.5V263h-1.5zM509.75 275h1.5V280h-1.5zM513.75 242h1.5V274h-1.5zM528.75 257h1.5V276h-1.5zM536.75 251h1.5V265h-1.5zM540.75 245.75h1.5V250.25h-1.5zM544.75 207h1.5V240h-1.5zM551.75 220h1.5V232h-1.5zM559.75 213h1.5V228h-1.5zM574.75 225h1.5V240h-1.5zM578.75 216h1.5V225h-1.5zM601.75 279h1.5V282h-1.5zM612.75 284h1.5V291h-1.5zM616.75 261h1.5V284h-1.5zM623.75 262h1.5V285h-1.5zM635.75 250h1.5V265h-1.5zM639.75 227h1.5V250h-1.5zM658.75 216h1.5V246h-1.5zM673.75 219h1.5V228h-1.5zM680.75 199h1.5V206h-1.5zM692.75 211.75h1.5V215.25h-1.5zM699.75 204h1.5V212h-1.5zM718.75 217h1.5V235h-1.5zM730.75 219h1.5V237h-1.5zM734.75 205h1.5V219h-1.5zM745.75 196h1.5V207h-1.5zM749.75 187h1.5V196h-1.5zM753.75 185h1.5V187h-1.5zM756.75 182h1.5V184h-1.5zM764.75 181h1.5V182h-1.5zM768.75 170h1.5V180h-1.5zM772.75 158h1.5V170h-1.5zM775.75 151h1.5V157h-1.5zM779.75 132h1.5V150h-1.5zM791.75 134h1.5V148h-1.5zM794.75 130h1.5V134h-1.5zM798.75 121h1.5V129h-1.5z" fill="#00d000"/>
<path d="M4.75 401h1.5V403h-1.5zM12.75 372h1.5V393h-1.5zM23.75 386h1.5V431h-1.5zM31.75 430h1.5V437h-1.5zM38.75 420h1.5V424h-1.5zM50.75 449h1.5V498h-1.5zM53.75 498h1.5V547h-1.5zM61.75 512.75h1.5V516.25h-1.5zM76.75 484h1.5V506h-1.5zM95.75 374h1.5V389h-1.5zM103.75 379h1.5V418h-1.5zM114.75 389h1.5V416h-1.5zM129.75 342.75h1.5V345.25h-1.5zM148.75 269h1.5V284h-1.5zM156.75 284h1.5V330h-1.5zM179.75 289h1.5V295h-1.5zM183.75 296h1.5V322h-1.5zM240.75 166h1.5V175h-1.5zM247.75 172h1.5V178h-1.5zM259.75 158h1.5V162h-1.5zM262.75 162h1.5V184h-1.5zM270.75 169h1.5V197h-1.5zM297.75 147h1.5V169h-1.5zM300.75 170h1.5V184h-1.5zM304.75 185h1.5V191h-1.5zM338.75 131h1.5V184h-1.5zM342.75 185h1.5V202h-1.5zM346.75 203h1.5V264h-1.5zM361.75 216h1.5V236h-1.5zM369.75 233h1.5V236h-1.5zM376.75 199h1.5V202h-1.5zM388.75 202h1.5V213h-1.5zM392.75 214h1.5V264h-1.5zM399.75 197h1.5V205h-1.5zM422.75 143h1.5V161h-1.5zM426.75 161.75h1.5V164.25h-1.5zM433.75 169h1.5V175h-1.5zM437.75 176h1.5V188h-1.5zM441.75 188h1.5V198h-1.5zM445.75 198h1.5V233h-1.5zM456.75 237h1.5V261h-1.5zM460.75 262h1.5V267h-1.5zM479.75 247h1.5V251h-1.5zM483.75 251h1.5V257h-1.5zM487.75 258h1.5V262h-1.5zM490.75 262h1.5V297h-1.5zM506.75 221h1.5V280h-1.5zM525.75 264h1.5V276h-1.5zM532.75 257h1.5V265h-1.5zM547.75 207h1.5V232h-1.5zM555.75 220h1.5V228h-1.5zM563.75 214h1.5V220h-1.5zM566.75 221h1.5V237h-1.5zM570.75 237h1.5V240h-1.5zM585.75 216h1.5V220h-1.5zM589.75 221h1.5V235h-1.5zM593.75 236h1.5V253h-1.5zM597.75 253h1.5V282h-1.5zM608.75 287h1.5V291h-1.5zM620.75 262h1.5V285h-1.5zM631.75 261h1.5V265h-1.5zM642.75 227h1.5V231h-1.5zM646.75 231h1.5V250h-1.5zM654.75 250h1.5V253h-1.5zM665.75 215h1.5V223h-1.5zM669.75 223.75h1.5V227.25h-1.5zM684.75 199h1.5V202h-1.5zM688.75 202h1.5V215h-1.5zM703.75 203h1.5V207h-1.5zM711.75 206h1.5V224h-1.5zM722.75 217h1.5V239h-1.5zM783.75 131.75h1.5V134.25h-1.5zM787.75 135h1.5V148h-1.5z" fill="#ff8000"/>
<text x="992.5" y="14.7" font-size="13" letter-spacing="-0.15" fill="#000">Powered by XTick</text>
<g shape-rendering="crispEdges">
<rect x="1118" y="0" width="58" height="809" fill="url(#ax)"/>
<rect x="1117" y="0" width="1" height="810" fill="#000"/>
<rect x="0" y="620" width="1118" height="1" fill="#000"/>
<rect x="0" y="809" width="1118" height="1" fill="#000"/>
<path d="M1111 5H1117v1H1111zM1114 35H1117v1H1114zM1114 65H1117v1H1114zM1114 96H1117v1H1114zM1114 126H1117v1H1114zM1111 156H1117v1H1111zM1114 187H1117v1H1114zM1114 217H1117v1H1114zM1114 247H1117v1H1114zM1114 278H1117v1H1114zM1111 308H1117v1H1111zM1114 338H1117v1H1114zM1114 369H1117v1H1114zM1114 399H1117v1H1114zM1114 429H1117v1H1114zM1111 460H1117v1H1111zM1114 490H1117v1H1114zM1114 520H1117v1H1114zM1114 551H1117v1H1114zM1114 581H1117v1H1114zM1111 612H1117v1H1111zM1111 628H1117v1H1111zM1114 639H1117v1H1114zM1114 650H1117v1H1114zM1114 661H1117v1H1114zM1114 672H1117v1H1114zM1111 684H1117v1H1111zM1114 695H1117v1H1114zM1114 706H1117v1H1114zM1114 717H1117v1H1114zM1114 728H1117v1H1114zM1111 740H1117v1H1111zM1114 751H1117v1H1114zM1114 762H1117v1H1114zM1114 773H1117v1H1114zM1114 784H1117v1H1114zM1111 796H1117v1H1111z" fill="#000"/>
</g>
<text x="1172.2" y="10.6" font-size="13.2" letter-spacing="-0.4" text-anchor="end" fill="#000">125.04</text>
<text x="1172.2" y="313.6" font-size="13.2" letter-spacing="-0.4" text-anchor="end" fill="#000">105.04</text>
<text x="1172.2" y="465.6" font-size="13.2" letter-spacing="-0.4" text-anchor="end" fill="#000">95.04</text>
<text x="1172.2" y="617.6" font-size="13.2" letter-spacing="-0.4" text-anchor="end" fill="#000">85.04</text>
<text x="1172.2" y="633.8" font-size="13.2" letter-spacing="-0.4" text-anchor="end" fill="#000">75000</text>
<text x="1172.2" y="689.8" font-size="13.2" letter-spacing="-0.4" text-anchor="end" fill="#000">50000</text>
<text x="1172.2" y="745.8" font-size="13.2" letter-spacing="-0.4" text-anchor="end" fill="#000">25000</text>
<text x="1172.2" y="801.8" font-size="13.2" letter-spacing="-0.4" text-anchor="end" fill="#000">0</text>
<rect x="1117" y="137" width="59" height="15" fill="#000" shape-rendering="crispEdges"/>
<rect x="1118" y="138" width="57" height="13" fill="#00009c" shape-rendering="crispEdges"/>
<text x="1172.2" y="149.7" font-size="13.2" letter-spacing="-0.4" text-anchor="end" fill="#fff">115.86</text>
<rect x="1117" y="113" width="59" height="15" fill="#000" shape-rendering="crispEdges"/>
<rect x="1118" y="114" width="57" height="13" fill="#000" shape-rendering="crispEdges"/>
<text x="1172.2" y="125.7" font-size="13.2" letter-spacing="-0.4" text-anchor="end" fill="#fff">117.44</text>
<path d="M1121.5 118 L1124.2 124 L1118.8 124z" fill="#fff"/>
<rect x="1117" y="127" width="59" height="15" fill="#000" shape-rendering="crispEdges"/>
<rect x="1118" y="128" width="57" height="13" fill="#fff" shape-rendering="crispEdges"/>
<text x="1172.2" y="139.7" font-size="13.2" letter-spacing="-0.4" text-anchor="end" fill="#000">+0.50%</text>
<rect x="1117" y="152" width="59" height="15" fill="#000" shape-rendering="crispEdges"/>
<rect x="1118" y="153" width="57" height="13" fill="#007c00" shape-rendering="crispEdges"/>
<text x="1172.2" y="164.7" font-size="13.2" letter-spacing="-0.4" text-anchor="end" fill="#fff">114.83</text>
<rect x="1117" y="200" width="59" height="15" fill="#000" shape-rendering="crispEdges"/>
<rect x="1118" y="201" width="57" height="13" fill="#0000e0" shape-rendering="crispEdges"/>
<text x="1172.2" y="212.7" font-size="13.2" letter-spacing="-0.4" text-anchor="end" fill="#fff">111.67</text>
<rect x="1117" y="238" width="59" height="15" fill="#000" shape-rendering="crispEdges"/>
<rect x="1118" y="239" width="57" height="13" fill="#ff8040" shape-rendering="crispEdges"/>
<text x="1172.2" y="250.7" font-size="13.2" letter-spacing="-0.4" text-anchor="end" fill="#ffe8d8">109.20</text>
<rect x="1117" y="254" width="59" height="16" fill="#000" shape-rendering="crispEdges"/>
<rect x="1118" y="256" width="57" height="13" fill="#ff0000" shape-rendering="crispEdges"/>
<text x="1172.2" y="266.7" font-size="13.2" letter-spacing="-0.4" text-anchor="end" fill="#fff">108.10</text>
<rect x="1117" y="394" width="59" height="15" fill="#000" shape-rendering="crispEdges"/>
<rect x="1118" y="395" width="57" height="13" fill="#ff0000" shape-rendering="crispEdges"/>
<text x="1172.2" y="406.7" font-size="13.2" letter-spacing="-0.4" text-anchor="end" fill="#fff">98.94</text>
<rect x="1117" y="754" width="59" height="15" fill="#000" shape-rendering="crispEdges"/>
<rect x="1118" y="755" width="57" height="13" fill="#00ff00" shape-rendering="crispEdges"/>
<text x="1172.2" y="766.7" font-size="13.2" letter-spacing="-0.4" text-anchor="end" fill="#000">15183</text>
<text x="5.6" y="824.4" font-size="12.5" fill="#000">июн 05</text>
<text x="66.6" y="824.4" font-size="12.5" fill="#000">25</text>
<text x="89.6" y="824.4" font-size="12.5" fill="#000">июл 02</text>
<text x="157.6" y="824.4" font-size="12.5" fill="#000">23</text>
<text x="187.6" y="824.4" font-size="12.5" fill="#000">авг 01</text>
<text x="248.6" y="824.4" font-size="12.5" fill="#000">20</text>
<text x="271.6" y="824.4" font-size="12.5" fill="#000">27</text>
<text x="290.6" y="824.4" font-size="12.5" fill="#000">сен 01</text>
<text x="339.6" y="824.4" font-size="12.5" fill="#000">17</text>
<text x="362.6" y="824.4" font-size="12.5" fill="#000">24</text>
<text x="385.6" y="824.4" font-size="12.5" fill="#000">окт 01</text>
<text x="431.6" y="824.4" font-size="12.5" fill="#000">15</text>
<text x="453.6" y="824.4" font-size="12.5" fill="#000">22</text>
<text x="488.6" y="824.4" font-size="12.5" fill="#000">ноя 01</text>
<text x="545.6" y="824.4" font-size="12.5" fill="#000">19</text>
<text x="564.6" y="824.4" font-size="12.5" fill="#000">26</text>
<text x="583.6" y="824.4" font-size="12.5" fill="#000">дек 01</text>
<text x="632.6" y="824.4" font-size="12.5" fill="#000">17</text>
<text x="655.6" y="824.4" font-size="12.5" fill="#000">24</text>
<text x="678.6" y="824.4" font-size="12.5" fill="#000">янв 01</text>
<text x="742.6" y="824.4" font-size="12.5" fill="#000">21</text>
<text x="780.6" y="824.4" font-size="12.5" fill="#000">фев 01</text>
<path d="M3 810h1v16h-1zM64 810h1v16h-1zM87 810h1v16h-1zM155 810h1v16h-1zM185 810h1v16h-1zM246 810h1v16h-1zM269 810h1v16h-1zM288 810h1v16h-1zM337 810h1v16h-1zM360 810h1v16h-1zM383 810h1v16h-1zM429 810h1v16h-1zM451 810h1v16h-1zM486 810h1v16h-1zM543 810h1v16h-1zM562 810h1v16h-1zM581 810h1v16h-1zM630 810h1v16h-1zM653 810h1v16h-1zM676 810h1v16h-1zM740 810h1v16h-1zM778 810h1v16h-1z" fill="#000" shape-rendering="crispEdges"/>
<rect x="2" y="623" width="45.5" height="14.5" fill="#9a9a9a"/>
<rect x="1.5" y="622.5" width="45" height="14.3" fill="#3a3a3a"/>
<rect x="0" y="621" width="45.3" height="14.6" fill="#fff"/>
<rect x="0" y="628" width="2" height="1" fill="#000"/>
<text x="2" y="631.8" font-size="12.3" fill="#000">Volume</text>
<rect x="1116.5" y="811.5" width="19" height="13" fill="#fff" stroke="#000" stroke-width="1"/>
<rect x="1119.8" y="815.3" width="7.5" height="5.4" rx="2.4" fill="#c8c8c8" stroke="#484848" stroke-width="1.4"/>
<rect x="1124.8" y="815.3" width="7.5" height="5.4" rx="2.4" fill="#c8c8c8" stroke="#484848" stroke-width="1.4"/>
<rect x="1122.5" y="817.2" width="7" height="1.6" fill="#707070"/>
<rect x="1145.5" y="812.5" width="14" height="13" fill="#a8a8a8"/>
<rect x="1144.5" y="811.5" width="13.5" height="12.5" fill="#c80010"/>
<path d="M1146.3 817h4.4v-2.6l3.4 3.6l-3.4 3.6v-2.6h-4.4z M1155 814.3h1.6v7.4h-1.6z" fill="#fff"/>
<rect x="0" y="826" width="1176" height="2" fill="#f6f6f6"/>
<rect x="0" y="828" width="1176" height="2" fill="#e4e4e4"/>
<rect x="0" y="830" width="1176" height="28" fill="#3c3c3c"/>
<text x="10.7" y="848" font-size="12.6" fill="#ececec" textLength="126.4" lengthAdjust="spacing">Элитный Трейдер,</text>
<text x="142.8" y="848" font-size="12.6" fill="#ececec" textLength="116.2" lengthAdjust="spacing">ELITETRADER.RU</text>
<path d="M1060.3 834.6 L1068.8 842.6 L1064.8 842.6 L1064.8 850.4 L1057 850.4 L1057 842.6 L1053 842.6z" fill="url(#arr)" stroke="#3c7c10" stroke-width="0.6"/>
<rect x="1051.8" y="846" width="9" height="4.8" fill="url(#arb)"/>
<text x="1072.6" y="847.8" font-size="13.6" font-weight="bold" fill="#fff" letter-spacing="0.2">clip</text>
<circle cx="1103.2" cy="843.4" r="7.8" fill="url(#ball)"/>
<text x="1103.2" y="848.6" font-size="14" font-weight="bold" fill="#fff" text-anchor="middle">2</text>
<text x="1110.6" y="847.8" font-size="13.6" font-weight="bold" fill="#fff" letter-spacing="0.3">net</text>
<text x="1132.6" y="847.8" font-size="13.6" font-weight="bold" fill="#8c948c" letter-spacing="0.75">.com</text>
</svg></body></html>
